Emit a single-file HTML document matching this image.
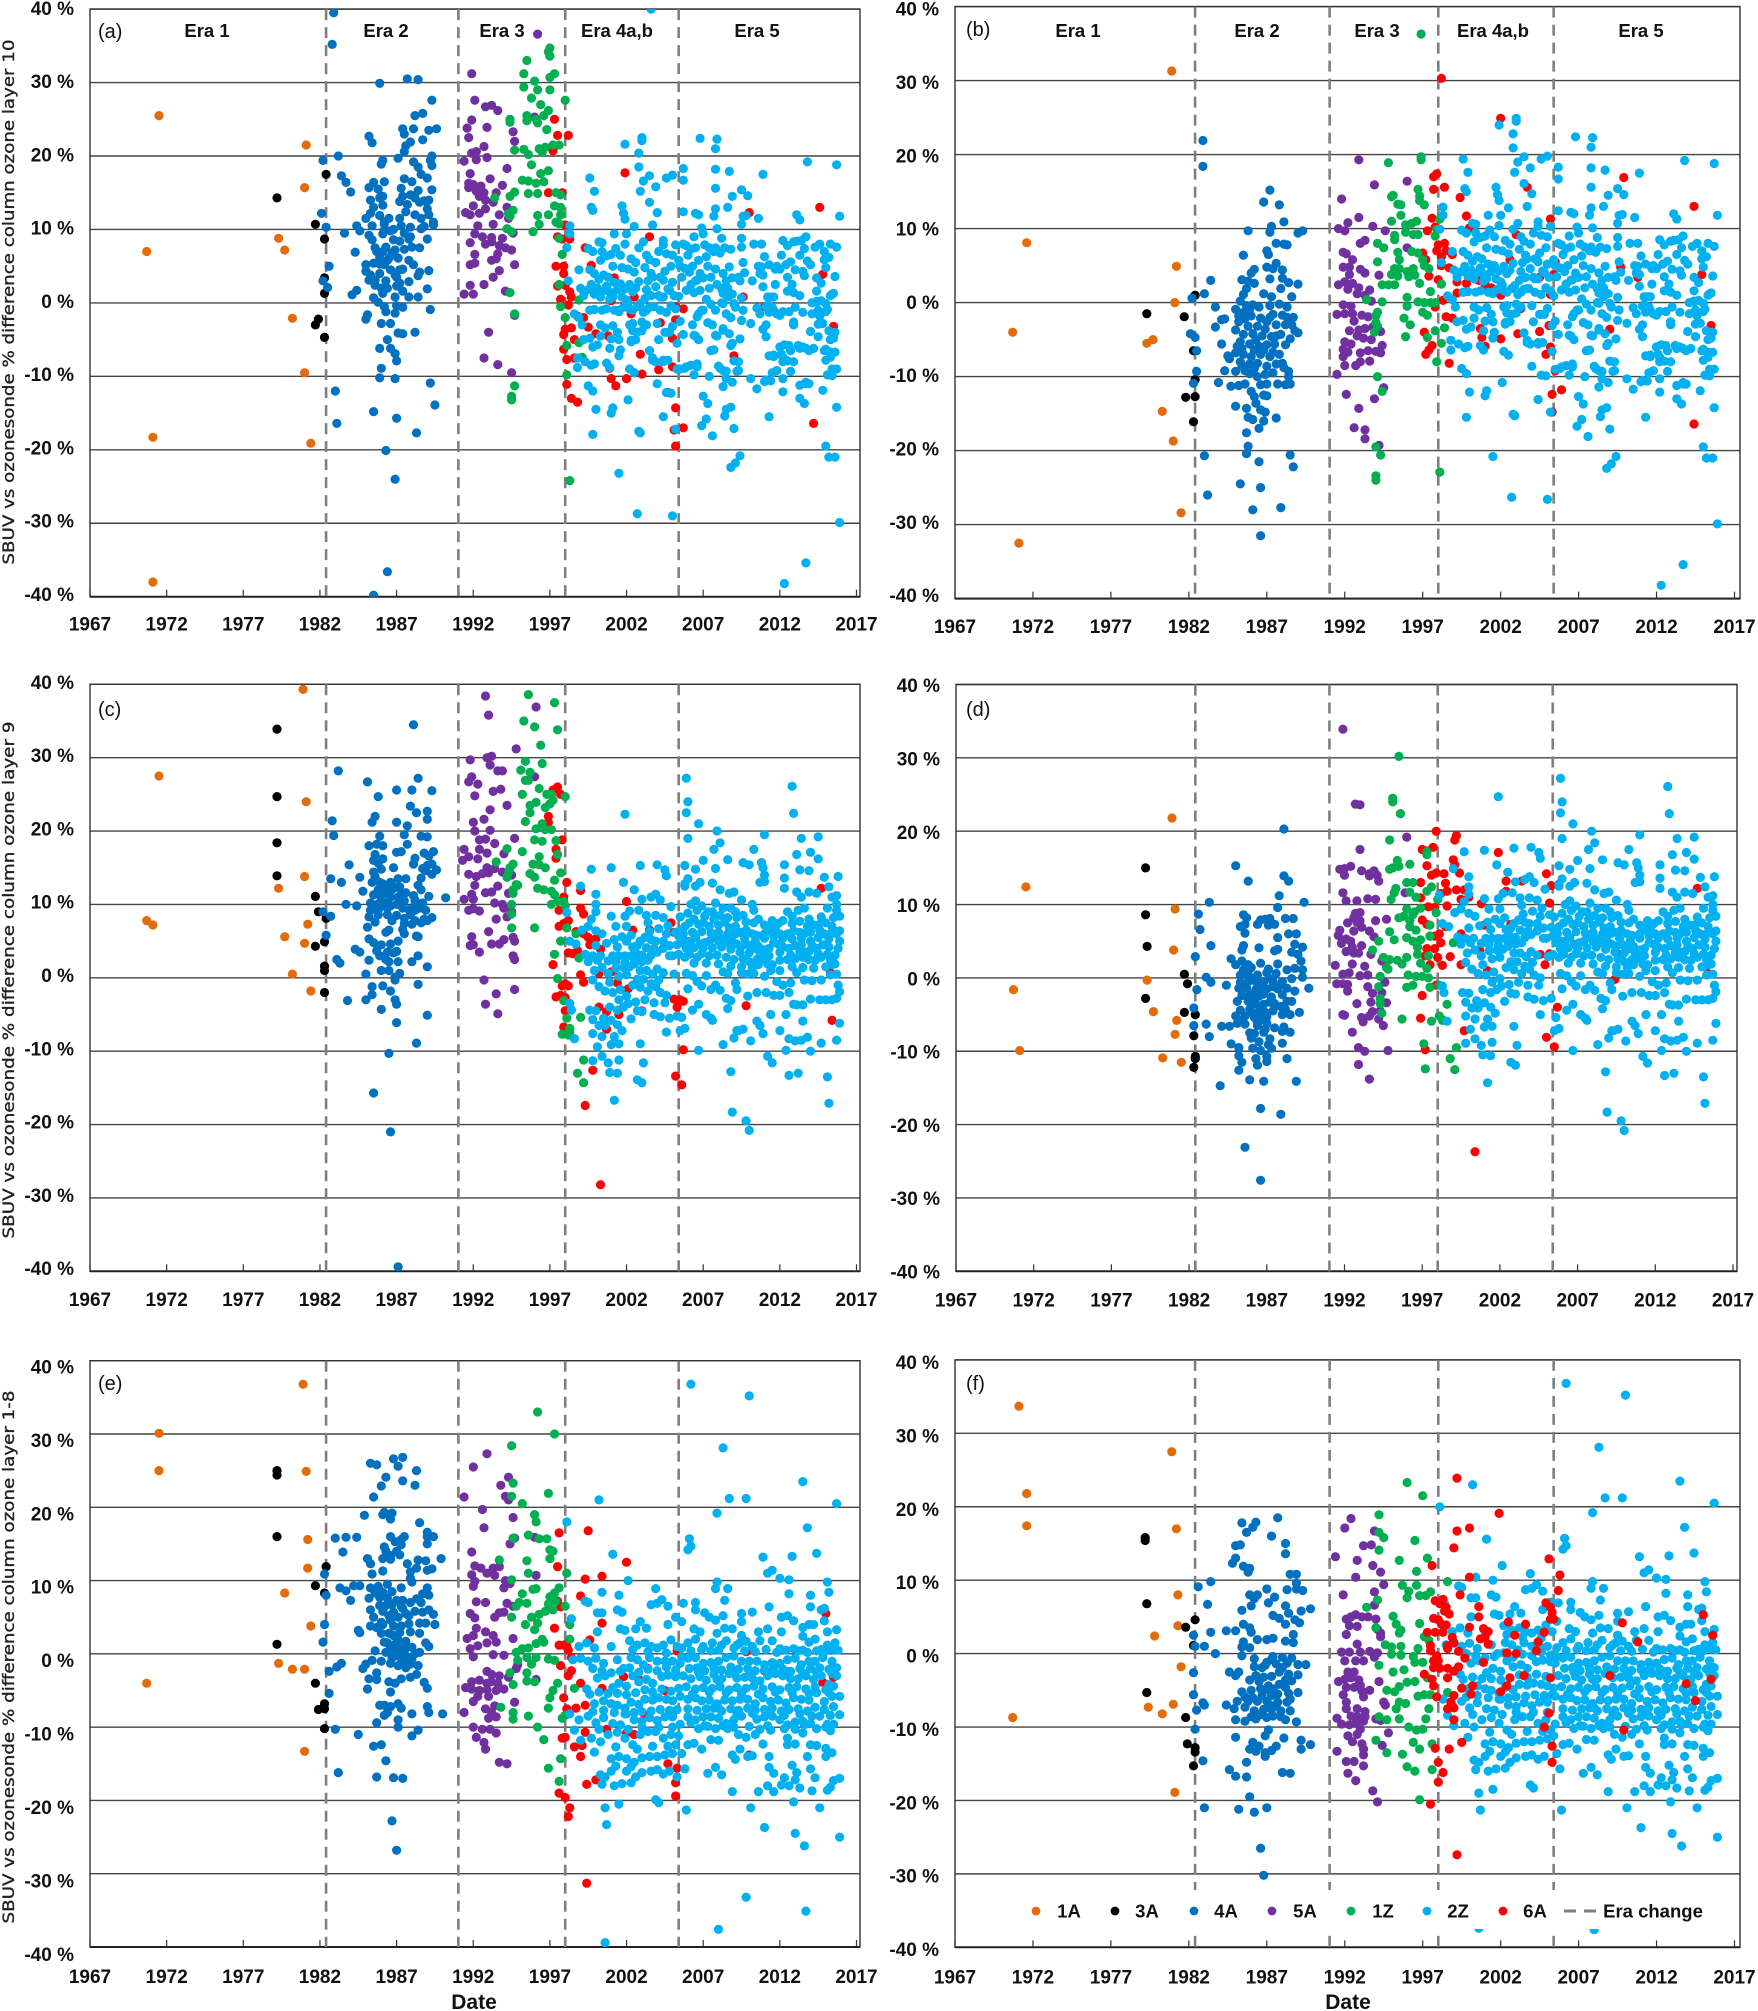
<!DOCTYPE html>
<html lang="en">
<head>
<meta charset="utf-8">
<title>SBUV vs ozonesonde differences</title>
<style>
html,body{margin:0;padding:0;background:#fff;width:1758px;height:2011px;overflow:hidden}
svg{display:block}
text{font-family:"Liberation Sans",sans-serif;fill:#111}
.tick{font-size:19px;font-weight:bold}
.era{font-size:18.5px;font-weight:bold}
.plabel{font-size:20px}
.ytitle{font-family:"DejaVu Sans",sans-serif;font-size:16px;fill:#222;stroke:#222;stroke-width:.35px}
.date{font-size:21px;font-weight:bold}
.leg{font-size:18.5px;font-weight:bold}
</style>
</head>
<body>
<svg id="chart" xmlns="http://www.w3.org/2000/svg" width="1758" height="2011" viewBox="0 0 1758 2011"></svg>
<script>
const xTickLabels=[1967,1972,1977,1982,1987,1992,1997,2002,2007,2012,2017];
const yTickLabels=[40,30,20,10,0,-10,-20,-30,-40];
const eraChangeYears=[1982.4,1991.03,1998,2005.4];
const eraNames=["Era 1","Era 2","Era 3","Era 4a,b","Era 5"];
const seriesNames=["1A","3A","4A","5A","1Z","2Z","6A"];

const layer10_2Z=[[1998.3,10.5],[1998.3,9.4],[1998.1,7.5],[1998.2,3],[1998.6,-1.5],[1998.9,4.5],[1999,2],[1999.2,1],[1998.9,-2],[1999.1,-3],[1998.8,-7.5],[1998.8,-8.8],[1999.3,-8],[1999.2,-5],[1999.5,7.4],[1999.8,7],[1999.6,4.5],[1999.9,4],[1999.5,1.8],[1999.7,2.5],[1999.9,1.2],[1999.6,-1],[1999.9,-.9],[1999.6,-4.8],[1999.8,-6],[1999.7,-8.5],[1999.9,-8.3],[1999.5,-11.3],[1999.8,-12],[2000,-14.5],[1999.8,-17.9],[1999.6,17],[1999.9,15.2],[1999.7,13],[1999.8,12.6],[2000.2,8.3],[2000.4,8.2],[2000.7,6.4],[2000.3,5.8],[2000.5,3.8],[2000.8,3.5],[2000.1,2],[2000.4,1.5],[2000.7,2.3],[2000.9,1.5],[2000.4,-1],[2000.7,-.8],[2000.3,-3],[2000.6,-3.4],[2000.3,-4.5],[2000.7,-8.2],[2000.9,-8.8],[2001.2,9.4],[2001.3,7.4],[2001.6,6.5],[2001.1,5],[2001.7,4.8],[2001.2,2.8],[2001.5,2.6],[2001.1,1],[2001.4,1.8],[2001.7,.8],[2001.2,-1],[2001.5,-1.2],[2001.8,-.6],[2001.1,-3.1],[2001.4,-4],[2001.5,-5],[2001.6,-6.4],[2001.5,-7.2],[2001.1,-14.3],[2001,-15],[2001.5,-23.2],[2001.9,21.6],[2001.7,13.2],[2001.8,12.2],[2001.9,11.4],[2002,9.4],[2001.9,8],[2002.3,6],[2002.6,5.5],[2002.1,4.6],[2002.5,4.2],[2002.2,2.5],[2002.6,2],[2002.1,0],[2002.4,-1],[2002.7,-.5],[2002.2,-3],[2002.4,-3.8],[2002.3,-5.3],[2002.6,-5],[2002.2,-9],[2002.5,-9.5],[2002.8,-17.5],[2002.9,-17.7],[2002.1,-13.2],[2002.7,-28.7],[2002.5,10.4],[2003,22.5],[2003,22.1],[2002.8,20.4],[2002.8,18.5],[2003.5,17.3],[2003.1,16.6],[2003.9,15.8],[2002.9,15.2],[2004.6,17],[2005,17.4],[2003.5,13.7],[2004,12.3],[2003.7,10.6],[2003.6,40],[2003.1,8.3],[2003.3,6.5],[2003.5,5.9],[2003.2,4.8],[2003.6,4],[2003.4,3],[2003.7,3.5],[2003.2,.6],[2003.6,1],[2003.1,-1.3],[2003.5,-.6],[2003.8,-.5],[2003,-2.6],[2003.3,-3],[2003.5,-6.5],[2003.7,-7.5],[2003.9,-8],[2003,-3.8],[2004.4,8.5],[2004.4,7.9],[2004.1,7],[2004.6,6.7],[2004.9,5],[2004.2,3.5],[2004.5,4.3],[2004.1,1],[2004.4,.8],[2004.7,1.9],[2004.2,-1],[2004.6,-1.3],[2004,-2.8],[2004.5,-4],[2004.8,-4],[2004.1,-5],[2004.4,-8],[2004.7,-7.8],[2004,-11],[2004.6,-12.2],[2004.4,-15.5],[2004.9,-12.3],[2005.2,7.9],[2005.4,5.8],[2005.7,8],[2005.9,7.8],[2005.5,5],[2005.8,4.7],[2005.1,1],[2005.4,.9],[2005.2,-.8],[2005.5,-2.5],[2005.7,-4.3],[2005.3,-5.5],[2005.5,-9],[2005.8,-8.9],[2005,-29],[2005.2,-17.2],[2005.7,18.3],[2005.7,16.7],[2005.7,12.4],[2006,6.5],[2006.2,7.3],[2006.5,7.5],[2006.3,5],[2006.7,5.8],[2006.2,2.5],[2006.5,3],[2006.8,1.7],[2006.4,1.4],[2006.7,-1.5],[2006.9,-1],[2006.3,-3],[2006.5,-4.5],[2006.7,-5],[2006.2,-8.5],[2006.6,-8.3],[2006.4,-9.8],[2006.5,12.2],[2006.7,12],[2006.8,22.4],[2006.9,-16.7],[2006.9,10.2],[2007,9.4],[2007.1,7.9],[2007.4,7.5],[2007.7,7],[2007.3,5],[2007.5,3.5],[2007,3.4],[2007.8,4.6],[2007.2,.5],[2007.5,-.2],[2007.8,-1],[2007.3,-2.7],[2007.6,-3],[2007.9,-4.5],[2007.5,-6.5],[2007.7,-6.4],[2007.4,-10],[2007,-12.7],[2007.3,-13.7],[2007.2,-15.8],[2007.6,-18.1],[2007.8,12.8],[2007.7,11.8],[2007.8,15.6],[2007.9,10.1],[2007.8,7.5],[2007.9,22.3],[2007.8,21],[2007.8,18.2],[2008.2,8.8],[2008.1,6.8],[2008.8,7.3],[2008.7,4.9],[2008.3,4],[2008.6,2],[2008.2,1.9],[2008.4,2.1],[2008.2,0],[2008.6,.8],[2008.9,1.2],[2008.5,-1.5],[2008.8,-2],[2008.3,-3.7],[2008.7,-4.2],[2008.9,-5.5],[2008.8,-5.8],[2008.1,-8.9],[2008.5,-9.3],[2008.3,-11.4],[2008.5,-10.3],[2008.5,-14.5],[2008.4,-15.4],[2008.8,-14.2],[2008.6,13],[2008.7,17.9],[2008.9,14.5],[2009,-17.1],[2008.9,-10.8],[2009,-7.9],[2009.2,-9.3],[2009.3,3.5],[2009.4,3],[2009.5,8.8],[2009.5,7.6],[2009.1,-.6],[2009.5,.7],[2009.6,-1],[2009.5,-2.4],[2009.5,15.4],[2009.9,14.6],[2009.8,11.9],[2009.6,11.8],[2009.5,10.7],[2008.8,-22.4],[2009.1,-21.8],[2009.4,-20.8],[2010.1,-10.3],[2010.5,-11.7],[2010.3,8],[2010.8,8],[2010.6,5],[2010.8,4.9],[2010.7,4],[2010.9,2.2],[2010.5,-.7],[2010.7,-1.5],[2010.9,-3.6],[2011.1,-4.6],[2010.9,17.5],[2010.6,11.5],[2011,-10.7],[2011.4,-10.6],[2011.3,-7.2],[2011.6,-7.3],[2011.2,.8],[2011.4,.8],[2011.2,-.3],[2011.5,-.6],[2011.7,4.6],[2011.8,5],[2011.7,2.5],[2011.5,-9.5],[2011.3,-15.5],[2011.8,-1.5],[2011.3,-1.3],[2012.2,8.5],[2012.5,7.8],[2012.9,8.3],[2012.7,5.6],[2012.5,3.5],[2012.5,1.6],[2012.8,2.5],[2012.9,1.4],[2012,-6],[2012.3,-5.7],[2012.6,-5.8],[2012.1,-7],[2012.2,-8],[2012.5,-7.9],[2012.7,-9.3],[2012.2,-10.3],[2012.2,-12.1],[2012.9,-2.6],[2012.9,-3],[2012.3,-38.2],[2013.1,12],[2013.3,11.3],[2013.1,8.4],[2013.4,8.5],[2013.7,9],[2013.3,6.5],[2013.5,4.3],[2013.6,3.7],[2013.8,5.7],[2013.3,1],[2013.2,-5.8],[2013.5,-6],[2013.7,-6.2],[2013.9,-6.5],[2013.3,-11.2],[2013.7,-10.8],[2013.9,-11],[2013.3,-13],[2013.6,-13.7],[2013.8,19.2],[2013.7,-35.4],[2014.4,1.6],[2014.1,0],[2014.4,.2],[2014.7,.3],[2014.1,-1.5],[2014.5,-1],[2014,-3.9],[2014.5,-2.9],[2014.8,-2.8],[2014.5,-4.6],[2014.3,7.6],[2014.6,8],[2014.4,3.4],[2014.7,2.7],[2015,4.8],[2014.9,-6.5],[2014.8,-11.9],[2015,-7.8],[2015.1,-9.8],[2015.3,-6.7],[2015.3,-5],[2015.5,-4.8],[2015.6,-4],[2015.3,1],[2015.4,1.2],[2015.6,3.6],[2015.7,7.6],[2015.7,18.8],[2015.9,11.8],[2015.4,-9],[2015.7,-14.2],[2015,-19.5],[2015.2,-21],[2015.6,-21],[2015.9,-29.9],[2015.1,-.9],[2015.2,-3.8],
[1999.8,1.7],[2000.7,2.2],[2001.6,2.6],[2002.4,1.5],[2000.3,.8],[2001.1,.8],[2002,.4],[2002.9,-.1],[2003.7,-.5],[2004.2,.8],[2004.8,1.7],[1999.6,-1],[2001.5,-1],[2002.2,-.8],[2003.3,-1],[2002.4,-2.8],[2002.3,-5.1],[2002.7,-4],[2004.6,-4],[2006.4,-4.4],[2007.8,-4.4],[2008.3,-3.5],[2006.6,-1.9],[2007,-1],[2008.3,1.3],[2008.3,-.1],[2009,-.1],[2006.6,3.1],[2005.9,1.7],[2011.6,.8],[2011.6,-1],[2012.2,-1.2],[2011.1,-.5],[2015,-.1],[2014.4,.1],[2015,-1.2],[2015.5,1.3],[2012.7,-6.5],[2012,-6],[2013.3,-6.2],[2014.2,-6.2],[2011.6,-7.1],[2012.2,-7.4],[2012.9,-8],[2011.8,-9.2],[2011.1,-10.5],[2013.7,-11],[2015.4,-9.9],[2015.7,-9],[2015.3,-7.4],[2015.6,-6.7],[2015,-6.3],[2006.6,-8.7],[2005.3,-9],[2005.9,-8.7],[2004.4,-7.8],[2003.7,-7.8],[2008.3,-9.2],[2008,-8.6],[2009.3,-9.2],[2009.3,-8],
[2000.2,3.2],[2000.9,.5],[2001.9,1.9],[2002.8,2.9],[2003.3,1.8],[2003.9,2.2],[2004.4,3.1],[2005,2.8],[2005.6,3.5],[2006.1,4.2],[2006.8,4],[2007.4,2],[2007.9,2.5],[2008.5,3],[2008.9,3.4],[2009.7,4.1],[2010.2,3],[2010.9,3.8],[2011.3,5.2],[2012,4.6],[2012.4,5.2],[2013,4.5],[2014,5.2],[2014.9,5.9],[2015.2,6.2],[2000.4,7],[2001,6.6],[2002.8,7.5],[2003.9,5.5],[2005,6.5],[2006.4,9],[2007.2,6.3],[2008.4,7.5],[2009.6,5.5],[2011,6.3],[2012.1,6.5],[2013.6,7.4],[2014.9,7],[2015.3,8],[2001,-4.9],[2000.1,-5.7],[2000.9,-6.2],[2005,-3.2],[2004.9,-.4],[2009.4,-4.9],[2010.1,-2.8],[2011.1,-3],[2012,-1.7],[2012.6,-1.2],[2013,-.6],[2013.5,-1.3],[2014.6,-1.8]];

const layer9_2Z=[[2005.9,27.2],[2006,24],[2005.9,22.5],[2012.8,26.1],[2012.9,22.4],[2001.9,22.3],[2006,19],[2006.7,21],[2007.9,20],[2008.1,18.4],[2011,19.5],[2013.4,19],[2014.5,19.2],[2007.7,17.5],[2010.3,17.5],[2013.1,16.8],[2014,17.1],[2014.5,16.2],[2008.6,16.1],[2007,16],[2009.6,15.7],[2010,15.4],[2010.8,15.7],[2010.9,15],[2012.3,15.4],[1999.7,14.8],[2001,15],[2002.9,15.3],[2004,15.4],[2004.5,14.7],[2004.6,13.9],[2005.8,15.3],[2006.5,14.8],[2007.8,14.9],[2013.3,14.7],[2013.9,14.6],[2011,14],[2014.9,13.7],[2015.8,13.8],[2012.3,13.6],[2001.8,13],[1999,12.5],[2002.5,12],[2000,11.4],[2003,10.7],[2003.6,11],[2003.9,11.4],[2004.2,10.6],[2004.9,9.7],[2002.2,9.1],[2002.8,9.2],[2003.3,8.5],[2003.9,8.5],[2004.4,8.2],[1998.1,8.9],[1999.7,8],[2000,10],[2000,9],[2001,8.4],[2001.9,8.4],[2001.3,7],[2002,7],[2003.4,7.5],[2004.7,7.1],[2005.8,12.8],[2006,13.5],[2005.8,12.5],[2006.5,12.5],[2006.8,13],[2007.6,12.9],[2008.1,12],[2008.7,11.5],[2009,11.7],[2009.5,10.6],[2010.2,10],[2011,13.1],[2010.7,13],[2012.3,12.2],[2013.1,11.7],[2013.4,11],[2013.9,11.7],[2014.4,11.5],[2015.2,12.4],[2015.7,11.2],[2015.4,11],[2015.7,10],[2015.7,9.2],[2015.9,8.4],[2015.1,9.5],[2014.7,8.3],[2006.2,10],[2006.5,10.5],[2006.9,9.8],[2007.3,9],[2007.8,10.2],[2008.3,9.5],[2008.8,9.5],[2009.1,9],[2009.6,8.5],[2010.3,9.2],[2010.6,8],[2011.5,7.8],[2011.9,7.4],[2012.5,9],[2012.8,8.4],[2013.2,9.2],[2013.6,9.5],[2013.9,8],[2014.2,7.2],[2015.4,7],[2015.9,6.4],[2005.2,6.2],[2005.5,6.5],[2005.8,7],[2006.1,7.5],[2006.4,8],[2006.7,7.3],[2007,7.5],[2007.4,7],[2007.7,8],[2008,7.2],[2008.4,7.6],[2008.7,6.8],[2009.1,7],[2009.4,6.2],[2009.8,6.5],[2010.2,6],[2010.5,5.8],[2011,5.4],[2011.3,6.5],[2011.7,6.8],[2012,6],[2012.5,6],[2012.9,6.4],[2013.3,6.2],[2013.6,6],[2014,5],[2014.5,5.5],[2014.9,6],[2015.3,6],[2005.3,4.5],[2005.6,4.8],[2005.9,5],[2006.2,5],[2006.5,5.5],[2006.8,4.6],[2007.1,4.8],[2007.4,5],[2007.7,5.5],[2008,5],[2008.3,5.3],[2008.6,4.8],[2008.9,5],[2009.2,4.6],[2009.5,4.3],[2009.9,4.5],[2010.3,4],[2010.6,4.3],[2011,3.8],[2011.3,4],[2011.6,4.8],[2011.9,4.6],[2012.2,4.2],[2012.6,4],[2013,4.4],[2013.4,4.5],[2013.7,3.5],[2014.1,4.4],[2014.4,4],[2014.8,4.5],[2015.2,4.2],[2015.9,5],[2015.8,4],[2004.4,5],[2004.8,4.4],[2005,3],[2005.4,3.2],[2005.8,2.8],[2006.1,3.2],[2006.6,2.8],[2006.9,3.3],[2007.4,3],[2007.9,3.1],[2008.5,2.8],[2009,2.5],[2009.6,2.6],[2010,2.2],[2010.5,2.5],[2011,2.6],[2011.5,1.8],[2012,2.4],[2012.5,2.5],[2013,2.6],[2013.5,2.8],[2013.9,2.5],[2014.3,2.4],[2014.7,2.8],[2015.3,2.5],[2015.4,1.8],[2003.2,5.5],[2003.6,5.2],[2003.9,5],[2002,5],[2002.4,4.2],[2002.7,4.4],[2001.4,4.2],[2001.1,3],[2001.5,3],[2001.9,3],[2002.3,3],[2002.6,3.4],[2003,3.1],[2003.4,2.4],[2003.8,4],[2000,4.4],[2000.4,6],[2000,6.4],[1999.5,7],[1999.1,6.5],[1998.3,5],[1998.7,4.6],[1999.3,3.2],[1999.8,3],[2000.3,3],[2000.1,2.4],[1999.5,2.2],[1999.9,1],[2000.8,.6],[2001.3,1.3],[2001.8,1.4],[2002.2,1.5],[2002.5,1.9],[2002.9,1],[2003.3,1],[2003.7,.5],[2004,1.2],[2004.4,.7],[2005.1,.5],[2005.9,.6],[2006.3,.3],[2006.6,-.5],[2007.2,.3],[2007.8,-1],[2008.3,.8],[2008.6,.6],[2009.1,-.7],[2009.5,1.5],[2009.9,.5],[2010.2,1.4],[2010.6,1.8],[2011,.2],[2011.4,1],[2011.8,-.5],[2012.2,-1],[2012.7,-.7],[2013.1,.7],[2013.6,-.3],[2014.1,-.4],[2014.7,-.3],[2015.3,.4],[2015.7,.5],[2015.8,-1],[1999.8,-.3],[2000.2,-1.2],[2000.6,-1.8],[2001.1,-2],[2001.6,-1.6],[2002,-2.5],[2002.4,-1],[2002.9,-1.3],[2003.4,-1.8],[2003.8,-3.4],[2004.2,-2],[2004.6,-2.4],[2006,-1.5],[2006.9,-1.1],[2007.5,-1.6],[2008.1,-1.7],[2008.5,-2.8],[2008.8,-3.1],[2009.2,-1.6],[2009.9,-2.5],[2010.5,-2],[2011.1,-2],[2011.6,-2.4],[2012,-2.4],[2012.6,-2],[2013.1,-3.7],[2013.5,-3.7],[2014,-2.9],[2014.6,-3],[2015,-3],[2015.4,-3],[2015.7,-2.8],[2015.9,-1.9],[1998.3,-3.5],[1998.4,-4.4],[1999.6,-4.4],[2000,-4.5],[1999.8,-5.7],[2000.5,-5.5],[2000.2,-6.5],[2000.6,-6.5],[2000.9,-4],[2001.4,-4.4],[2001.8,-4],[2002.3,-5.6],[2002.7,-4.5],[2003,-4.6],[2003.8,-5],[2004.2,-5.3],[2004.8,-5.5],[2005.3,-5.2],[2005.6,-5.4],[2006.3,-4.4],[2006.7,-3.6],[2007.2,-5],[2007.5,-5.5],[2007.6,-5.8],[2008.6,-4.2],[2009.2,-7.2],[2009.6,-7],[2010.5,-5.9],[2010.7,-6.5],[2011.4,-5],[2012.4,-5],[2012.9,-3.6],[2013.5,-5.9],[1998.6,-8.3],[1999.8,-7.6],[2000.4,-8],[2000.1,-9.4],[2001.2,-8],[2001,-9.1],[2001.5,-9],[2002.9,-9],[2004.6,-7.4],[2005.5,-7.2],[2005.8,-6.9],[2009,-8.2],[2009.3,-7.2],[2010.1,-8.6],[2010.9,-7.6],[2012,-7.2],[2012.6,-8.3],[2013,-8.6],[2013.4,-8.5],[2013.8,-8.1],[2014.7,-8.9],[2015.7,-8.5],[2015.9,-6.2],[2000.9,-12.9],[2001.4,-13],[2002.7,-13.9],[2003,-14.3],[2003.1,-11.6],[2001.2,-16.7],[2001.5,-11.2],[1999.8,-11.3],[2000.4,-10.7],[2000.8,-11.6],[2006.7,-9.9],[2008.8,-12.8],[2008.9,-18.3],[2009.8,-19.5],[2010,-20.8],[2012.6,-13.3],[2013.2,-13],[2015.1,-13.5],[2015.2,-17.1],[2011.2,-10.7],[2011.5,-11.6],[2012.4,-9.9],[2014,-10],[2008.3,-9.1],
[2005.5,8.3],[2006,8.8],[2006.6,9.2],[2007.1,8.4],[2007.6,9],[2008.1,8.5],[2008.6,8.2],[2009.2,8.2],[2009.8,7.6],[2010.3,7.5],[2011,7.2],[2011.5,7],[2012.2,7.8],[2012.8,7.4],[2013.3,7.7],[2013.8,7],[2014.5,7.2],[2015,7.5],[2015.5,8.2],[2005.7,6],[2006.3,6.2],[2006.9,6.3],[2007.5,6.1],[2008,6.2],[2008.6,6],[2009.1,6],[2009.7,5.4],[2010.4,5],[2011,6],[2011.6,5.7],[2012.2,5.4],[2012.8,5.3],[2013.4,5.4],[2014,6.2],[2014.6,6.5],[2015.2,5.3],[2015.7,6],[2005.4,5.7],[2005.9,4],[2006.4,4.1],[2007,4],[2007.6,4.1],[2008.2,4.2],[2008.8,3.9],[2009.4,3.5],[2010,3.4],[2010.7,3.4],[2011.3,3],[2012,3.5],[2012.7,3.1],[2013.3,3.5],[2013.9,3.6],[2014.5,3.3],[2015.1,3.2],[2015.6,3.1],[2006.4,2],[2007.2,2],[2008,1.9],[2008.8,1.6],[2009.5,.7],[2010.3,.6],[2011.2,1.9],[2012,1],[2012.8,1.5],[2013.5,1.4],[2014.2,1.3],[2015,1.5],[2015.6,1.9],[2000.8,2.3],[2001.3,2.2],[2001.9,2.1],[2002.5,2.6],[2003,2.2],[2003.6,3.1],[2004,3.5],[2004.4,4],[2003.3,4.1],[2002.9,5],[2002.3,5.8],[2001.7,5.6],[2001.2,5.2],[2000.7,4.7],[2000.4,1.4],[2000.9,-.6],[2001.5,.2],[2002,.4],[2002.7,-.2],[2003.1,-.2],[2003.6,-.8],[2004.1,-.3],[2004.8,3],[2003.5,6.3],[2004.1,6.7],[2004.6,6],[2001.5,-3],[2002.1,-3.5],[2002.6,-3.3],[2003.2,-3],[2003.9,-1.2],[2004.5,-3.4],[2001,-5.8],[2001.7,-7.2],[2001.4,-6.4]];

const layer18_2Z=[[2006.2,36.8],[2010,35.2],[2008.3,28.1],[2013.5,23.5],[2000.2,21],[2008.7,21.2],[2009.8,21.2],[2015.7,20.5],[2007.9,19.2],[1998.1,18],[2013.8,17.2],[2006.1,15.7],[2006.2,14.7],[2006,14.2],[2001.1,13.6],[2010.9,13.2],[2012.8,13.3],[2014.4,13.7],[2011.2,11],[2011.5,11.4],[2012,10.3],[2002.1,10],[2012.6,10.1],[2015.1,9.8],[2007.9,9.8],[2007.8,8.9],[2008.6,8.9],[2003.9,8.9],[2000.4,8.4],[2001.5,8],[2015.2,8.4],[2012.6,8.2],[2014,8],[1999.3,7.2],[1999.5,7],[2005.7,6.9],[2006.5,7],[2004.3,7.4],[2003.6,6.7],[2004,6.9],[2004.7,6.5],[2008.4,7.3],[2011.3,6.4],[2014,6.4],[2014.7,6],[2014.9,6.2],[2000.1,5.6],[2000.4,5.6],[2001.4,6],[2001.7,5.7],[2006.5,6],[2007.1,5.6],[2007.4,5],[2007.8,4.6],[2008.3,5.2],[2009.5,5.5],[2009.5,4.4],[2010.2,5.7],[2012.1,5],[2012.5,5.2],[2012.9,4.5],[2013.5,3.6],[2013.9,4],[2014.2,4],[2014.9,4.5],[2015.1,3],[2015.7,3.3],[1998.4,4.8],[2000.1,3],[2001.6,3.4],[2001.9,3.2],[2002.6,3.4],[2002.9,4.4],[2003.3,3.5],[2004.7,4],[2005.2,5],[2005.6,4.4],[2006.4,3.4],[2006.8,3],[2007.9,2.8],[2008.4,3.5],[2008.9,3.4],[2009.5,2.5],[2010.6,3],[2011.2,3.4],[2012.1,3],[2013.5,2.4],[2013.9,1.6],[2014.3,2],[1998.9,1],[1999.4,1.5],[2001,1],[2002.2,1.8],[2002.7,1.2],[2003.2,1.5],[2003.6,1],[2004,.8],[2004.4,1.2],[2004.9,1.9],[2005.3,1],[2005.6,.8],[2006,1.5],[2006.5,2],[2007,1],[2007.5,.4],[2008,.5],[2008.5,1.8],[2009,.8],[2009.4,1.5],[2009.8,1.7],[2010.2,1],[2010.7,1.8],[2011.5,1.8],[2012,.7],[2012.9,.7],[2013.5,.5],[2014.7,.6],[2015.1,1.2],[2015.5,.6],[2015.8,.5],[1998.5,-.8],[1999,-.6],[1999.5,-1],[2000,-.6],[2000.5,-1.3],[2001.4,-.8],[2001.8,-2],[2002.3,-.5],[2002.7,-.8],[2003.1,-1.5],[2003.5,-.5],[2004,-1],[2004.5,-1],[2005,-1],[2005.5,-1.3],[2006,-.6],[2006.5,-.5],[2007,-1.3],[2007.5,-1.2],[2008,-1],[2008.5,-.5],[2009,-.3],[2009.5,-1],[2010,-1],[2010.5,-1],[2011,-1.5],[2011.5,-1.2],[2012,-1.3],[2012.5,-.8],[2013,-.6],[2013.4,-1.5],[2013.9,-1],[2014.3,-1],[2014.8,-.5],[2015.4,-1],[2000.1,-3.3],[2000.6,-3],[2001.1,-4.6],[2001.5,-4],[2002,-4.4],[2002.4,-3],[2002.8,-3.8],[2003.3,-3.5],[2003.7,-4],[2004.3,-3.1],[2004.7,-2.9],[2005.2,-3.1],[2005.7,-3],[2006.2,-3.4],[2006.7,-2.5],[2007.2,-3.6],[2007.7,-2.8],[2008.2,-3.4],[2008.7,-2.7],[2009.2,-3.3],[2009.7,-3.2],[2010.2,-3.3],[2010.7,-3.7],[2011.2,-3],[2011.7,-2.7],[2012.2,-3],[2012.7,-3.4],[2013.2,-3.4],[2013.7,-3],[2014.2,-3.5],[2014.7,-3],[2015.2,-4.2],[2015.7,-3],[1999.4,-4.8],[1999.9,-6.8],[2000.5,-6.4],[2001,-6.8],[2001.4,-7],[2001.9,-7.4],[2002.3,-6.6],[2002.8,-6.9],[2003.2,-6.2],[2003.7,-6.3],[2004.1,-6],[2004.6,-6.2],[2005,-6.4],[2005.5,-5.8],[2006,-6.2],[2006.5,-6],[2006.9,-6.4],[2007.4,-6.3],[2007.9,-6.8],[2008.4,-6.3],[2008.9,-6.4],[2009.4,-6.2],[2009.9,-6.2],[2010.4,-6.8],[2010.9,-6],[2011.4,-6.5],[2011.9,-6.3],[2012.4,-6.7],[2012.9,-6],[2013.4,-6.2],[2013.9,-6.3],[2014.4,-5.3],[2014.9,-6.5],[2015.4,-5.8],[2015.9,-5.8],[1998.3,-8.2],[1998.9,-9],[1999.5,-8.5],[2000,-9.4],[2000.5,-8.7],[2001.1,-9.5],[2001.6,-9.7],[2002,-8.2],[2002.5,-9],[2003,-9.2],[2003.5,-8.7],[2004,-9.1],[2004.5,-8.6],[2005,-8.6],[2005.5,-9.6],[2006,-8.6],[2006.5,-9],[2007,-8.6],[2007.5,-8.6],[2008,-8.8],[2008.5,-9.5],[2009,-9],[2009.5,-8.5],[2010.5,-8.9],[2011,-8.6],[2011.5,-8.5],[2012,-9],[2012.5,-9.7],[2013,-9.3],[2013.5,-9.2],[2014,-9.5],[2014.6,-8.5],[2015,-10],[2015.5,-9.6],[2015.9,-8.3],[1998.6,-10.4],[1999,-11.8],[1999.7,-11.5],[2000.3,-12],[2000.8,-11],[2001.4,-10.7],[2001.9,-11.5],[2002.4,-12.4],[2002.9,-11],[2003.4,-10.6],[2003.9,-10.6],[2004.4,-11.5],[2004.9,-11],[2005.4,-11.2],[2006,-12.4],[2006.4,-12.2],[2006.9,-13],[2007.5,-11.7],[2008,-11.8],[2008.6,-10.2],[2009.3,-11],[2009.8,-11.4],[2010.4,-11],[2010.9,-12.3],[2011.4,-10.4],[2012.5,-11.5],[2013,-12.3],[2013.5,-10.8],[2014,-12.4],[2014.4,-12.5],[2015,-12.9],[2015.3,-10.5],[1999.9,-13.4],[2001,-14.3],[2001.5,-14],[2002,-14.3],[2002.5,-14.8],[2003,-14.2],[2003.5,-14],[2004,-14],[2004.5,-13.8],[2005,-13.6],[2005.6,-13.6],[2008.9,-13.8],[2009.1,-14.4],[2009.4,-13],[2009.9,-14],[2010.2,-13.9],[2011.3,-14],[2012.5,-12.4],[2013.8,-14],[2015,-14],[2015.4,-13.5],[2000.3,-16.5],[2000.6,-16.8],[2001,-16],[2001.3,-15.3],[2002,-16],[2002.3,-15.4],[2002.6,-16.8],[2003,-16.2],[2003.6,-16],[2004,-15.8],[2004.4,-16.4],[2004.8,-16],[2005.3,-16.8],[2005.8,-15.7],[2007.3,-16.3],[2007.8,-15.5],[2008.2,-16.5],[2011.3,-15.5],[2011.6,-16.3],[2012.3,-16.9],[2012.8,-15.2],[2013.1,-16.2],[2014.3,-16.9],[2014,-15.7],[2015.5,-17.3],[2015.9,-17],[2000.4,-17.8],[2001.2,-18],[2001.7,-17.7],[2002.3,-17.6],[2008.9,-18.8],[2010.6,-18.8],[2011.2,-18],[2011.6,-18.8],[2012.1,-17.9],[2012.6,-18],[2013,-17.2],[2013.3,-18.3],[2014.1,-18.7],[2015.1,-18.6],[2015.3,-18.2],[2000.6,-21],[2001.5,-20.5],[2003.9,-19.9],[2004.1,-20.3],[2005.9,-21.3],[2010.1,-21],[2012.9,-20.2],[2014.6,-21],[2000.7,-23.3],[2011,-23.7],[2013,-24.5],[2013.6,-26.2],[2015.9,-25],[2009.8,-33.2],[2013.7,-35.1],[2008,-37.6],[2000.6,-39.4],
[2006.1,-2],[2006.6,-1.9],[2007.1,-2.3],[2007.7,-1.9],[2008.2,-2.2],[2008.8,-1.8],[2009.3,-2.1],[2009.9,-2],[2010.4,-2.3],[2011,-2.2],[2011.6,-1.9],[2012.2,-2.1],[2012.7,-2.4],[2013.3,-2],[2014,-2],[2014.6,-1.9],[2015.2,-2.1],[2015.7,-1.9],[2005.9,-4.5],[2006.5,-4.8],[2007,-4.6],[2007.6,-4.7],[2008.1,-4.5],[2008.7,-4.9],[2009.2,-4.6],[2009.8,-4.7],[2010.3,-4.4],[2010.9,-4.8],[2011.5,-4.5],[2012,-4.9],[2012.6,-4.6],[2013.1,-4.5],[2013.7,-4.8],[2014.3,-4.5],[2015,-4.9],[2015.5,-4.4],[2006,-7.5],[2006.6,-7.7],[2007.2,-7.5],[2007.7,-7.4],[2008.2,-7.8],[2008.8,-7.5],[2009.3,-7.7],[2009.9,-7.4],[2010.4,-7.7],[2011,-7.6],[2011.5,-7.4],[2012.1,-7.8],[2012.6,-7.6],[2013.2,-7.5],[2013.8,-7.8],[2014.3,-7.3],[2014.9,-7.6],[2015.5,-7.2],[2006.7,-10.2],[2007.3,-9.9],[2007.8,-10.2],[2008.3,-9.8],[2009,-10],[2010,-9.9],[2010.7,-10.3],[2011.2,-9.8],[2012.3,-10.2],[2013,-10.3],[2013.6,-9.7],[2014.4,-10.2],[2015.1,-9.6],[2006.2,.4],[2006.9,.6],[2007.6,1.5],[2008.2,1.2],[2009.2,1.2],[2009.7,.4],[2010.4,.3],[2011.1,.6],[2011.8,.2],[2012.4,.5],[2013.2,.4],[2013.8,.2],[2014.4,.4],[2015,.4],[2015.6,1.5],[2006.3,-5.5],[2007.4,-5.2],[2008.5,-5.3],[2009.5,-5.4],[2010.6,-5.5],[2011.7,-5.2],[2012.8,-5.3],[2013.9,-5.4],[2015.2,-5.3],[2006.8,-3.1],[2007.9,-3.5],[2009,-2.7],[2010,-2.9],[2011.4,-2.4],[2012.4,-2.4],[2013.5,-2.6],[2014.4,-2.5],[2015.4,-2.7],[2006.2,-9.4],[2007.1,-9.8],[2008,-7.4],[2009.2,-8.3],[2010.2,-8.1],[2011.3,-7.7],[2012.3,-8.4],[2013.3,-8.2],[2014.1,-8.5],[2015.3,-8.4],[1999.8,-2],[2000.4,-2.3],[2001,-2.6],[2001.6,-2.4],[2002.2,-1.9],[2002.8,-2.5],[2003.4,-2.1],[2004,-2.3],[2004.6,-1.8],[2005.2,-2.2],[1999.6,-5.5],[2000.2,-5.2],[2000.8,-5.4],[2001.4,-5.4],[2002,-5.6],[2002.6,-5.3],[2003.2,-4.9],[2003.7,-5.2],[2004.3,-4.8],[2004.9,-5.1],[2005.4,-4.7],[1999.8,-7.9],[2000.5,-7.7],[2001.2,-8],[2001.9,-8.2],[2002.5,-8],[2003,-7.9],[2003.6,-7.8],[2004.2,-7.6],[2004.8,-7.7],[2005.3,-7.6],[2000.2,-10.3],[2002.1,-10.3],[2003,-10],[2004.1,-10],[2005,-10],[2003.4,.3],[2004.6,.1],[2005.6,-.4],[2002.4,.6],[1999.9,.8],[2001.3,-12.7],[2002.7,-13],[2003.7,-12.6],[2004.7,-12.6],[2005.2,-12.4]];

const era4Shift2Z={b:2.4,d:2.4,f:2};

const a1A=[[1971.5,25.5],[1970.7,7],[1971.1,-18.3],[1971.1,-38],[1981.1,21.5],[1981,15.7],[1979.3,8.8],[1979.7,7.2],[1980.2,-2.1],[1981,-9.5],[1981.4,-19.1]];
const a3A=[[1979.2,14.3],[1982.4,17.5],[1981.7,10.7],[1982.3,8.7],[1982.3,3.4],[1982.3,1.3],[1981.9,-2.2],[1981.7,-3],[1982.3,-4.7]];
const a4A=[[1982.9,39.5],[1982.8,35.2],[1985.9,29.9],[1987.7,30.5],[1988.4,30.4],[1989.3,27.6],[1988.7,25.8],[1988.2,25.5],[1985.2,22.7],[1985.4,21.8],[1987.4,23.7],[1987.5,23],[1988.1,23.7],[1989.1,23.5],[1989.6,23.7],[1988.7,22.2],[1987.9,21.9],[1987.6,21.4],[1987.5,20.6],[1982.2,19.4],[1983.2,20],[1986.1,19.4],[1986,18.9],[1987.1,19.7],[1989.3,20],[1989.2,19.4],[1988.1,19.2],[1988.4,18.5],[1989.3,18.7],[1983.4,17.3],[1983.7,16.4],[1984,15.1],[1985.5,16.4],[1985.8,15.5],[1986.2,16.5],[1987.5,16.9],[1988,16.5],[1988.6,17.5],[1989,17],[1985.2,15.7],[1986.1,14.5],[1987.4,14.5],[1987.9,14.7],[1989.3,15.4],[1985.3,14],[1985.5,13],[1986.1,13.3],[1987.2,13.8],[1987.7,13.4],[1988.5,13.7],[1989,12.8],[1982.1,12.2],[1985.3,12.2],[1985,11.5],[1985.9,11.9],[1986.5,11.5],[1988.2,12],[1988.6,11.5],[1989.1,12],[1989.4,11],[1982.4,10.3],[1984.4,10.5],[1984.6,9.8],[1986.2,10.7],[1987.3,10.5],[1987.9,10.3],[1988.6,10.1],[1989.4,10.6],[1983.6,9.5],[1985.2,9.2],[1985.4,8.6],[1986.1,9.4],[1986.8,8.6],[1987.2,8.4],[1987.8,8.7],[1989,8.7],[1984.3,6.9],[1985.6,7.5],[1986.3,7.6],[1986.9,7.2],[1987.5,7.3],[1988,7.6],[1988.5,7.5],[1985.9,6.1],[1986.5,6.1],[1987.1,6.1],[1987.8,5.8],[1985,5.2],[1985.5,5.4],[1986.2,5.2],[1986.6,4.5],[1987.2,4.5],[1985,4.3],[1985.3,3.8],[1985.9,4],[1987.4,4.6],[1988.5,4.2],[1989.1,4.4],[1982.6,5],[1985.2,3.1],[1985.6,3.1],[1986.3,3],[1987.2,2.7],[1987.8,2.9],[1988.4,3.7],[1982.2,3],[1982.5,2.1],[1984.4,1.7],[1984.1,1.1],[1986,2],[1986.1,1.3],[1987,2.3],[1987.4,1.6],[1989,1.9],[1985.5,.7],[1986.9,.8],[1987.8,.8],[1988.4,.8],[1985.8,.1],[1986.2,-.5],[1987,-.4],[1987.4,-.6],[1985.1,-1.6],[1985,-2.2],[1986.3,-1.2],[1986.9,-1.4],[1989.2,-.9],[1986,-2.8],[1986.6,-2.8],[1987.1,-4.1],[1987.4,-4.2],[1988.2,-4],[1986.4,-5],[1985.9,-6.2],[1986.6,-6.2],[1986.9,-6.9],[1987,-7.9],[1986,-8.9],[1985.9,-10.2],[1986.9,-10.3],[1989.2,-10.9],[1983,-12],[1983.1,-16.4],[1985.5,-14.8],[1987,-15.7],[1989.5,-13.9],[1988.3,-17.7],[1986.3,-20.1],[1986.9,-24],[1986.4,-36.6],[1985.5,-39.8],[1985.7,7],[1986.6,9.8],[1987.2,11.5],[1988.8,13.9],[1986.2,9.9],[1985.4,10.5],[1986.7,6.8],[1987.9,9],[1988.8,10.4],[1985.6,2.4],[1986.4,2],[1987,3.5],[1986.1,7],[1985.9,5.3],[1987.6,12.4],[1988.2,14.3],[1989.1,14],[1986.9,3.8],[1986.2,11],[1987.3,15.6],[1988.4,15.3],[1985.9,14.3],[1986.4,5.8],[1988.1,5.2],[1987.5,9.5],[1986.8,10]];
const a5A=[[1996.2,36.6],[1991.9,31.2],[1992.1,27.6],[1992.8,26.7],[1993.2,26.9],[1993.6,26.2],[1996,25.3],[1991.9,24.9],[1991.6,23.8],[1992.9,23.9],[1991.7,22.5],[1994.6,23.3],[1994.7,22],[1992.7,21.3],[1992.2,20.6],[1991.9,20.4],[1991.4,19.3],[1992.9,19.8],[1992.2,19.5],[1991.8,17.6],[1994.2,18.3],[1993.1,16.9],[1991.7,16.3],[1992,16.1],[1992.5,15.9],[1993.9,16],[1991.7,15.7],[1992.2,15.2],[1992.7,15],[1993.5,15],[1992.4,14.5],[1992.8,14],[1993.3,13.7],[1992,13.2],[1992.8,12.8],[1994.2,13],[1991.5,12.3],[1991.8,12],[1992.4,12.2],[1993.7,12],[1994.3,11.5],[1993.3,10.7],[1992.3,10.5],[1994.6,9.5],[1992.1,9.4],[1992.6,9],[1993.2,8.9],[1993.9,8.8],[1991.8,8.2],[1992.8,8],[1993.2,8.3],[1993.7,7.8],[1994.1,7.5],[1994.5,7.2],[1992.1,6.6],[1993.6,6.7],[1993.2,5.8],[1993.5,6],[1991.8,5.2],[1992.1,5.4],[1994.7,5.2],[1993.7,4.4],[1993.3,3.5],[1992.7,2.5],[1991.8,2.4],[1994.1,1.6],[1991.4,1.2],[1992,1.2],[1994.7,-1.7],[1993,-4],[1992.7,-7.5],[1993.6,-8.4],[1994.5,-9.5]];
const a1Z=[[1997,34.7],[1996.9,34.2],[1997,33.6],[1995.5,33],[1995.3,31.2],[1997.3,31.2],[1997,30.7],[1996,30.2],[1995.3,29.4],[1996.2,29],[1997,29],[1995.8,27.9],[1998,27.6],[1996.4,27],[1996.9,26.2],[1994.4,25],[1994.4,24.6],[1995.5,25.5],[1995.5,24.8],[1996.1,25],[1996.2,24.5],[1996.8,23.6],[1996.6,25.5],[1994.7,20.8],[1995.3,20.9],[1995.6,20.2],[1996.3,21],[1996.7,21.2],[1997.2,21.5],[1997.6,21.5],[1996.5,20.5],[1995.8,18.8],[1996.9,18],[1996.4,17.6],[1995.2,16.7],[1995.6,16.6],[1996.1,16.3],[1996.6,16.5],[1994.4,14.5],[1994.7,15.1],[1995.6,14.9],[1996.2,14.9],[1997.4,15],[1997.7,14.7],[1997.7,13],[1993.4,14.3],[1997.3,13.2],[1997.7,12],[1994.3,12.2],[1994.6,12.6],[1994.4,11.8],[1996.2,11.9],[1996.9,12],[1997.4,11],[1997.6,10.8],[1994.2,10.1],[1994.5,9.7],[1996.3,10.7],[1995.9,9.7],[1997.6,8.8],[1997.8,6.6],[1997.6,2.5],[1994.4,1.4],[1997.7,-.5],[1998,-2],[1994.7,-1.5],[1998.1,-5.8],[1998.9,-5.4],[1999.1,-7.4],[1998.1,-9.8],[1994.7,-11.3],[1994.5,-12.7],[1994.5,-13.2],[1998.3,-24.2],[1998.9,.4]];
const a6A=[[1997.3,25],[1997.5,22.8],[1998.2,22.8],[1997.2,20.7],[1996.9,15],[1997.8,15],[2001.9,17.7],[1997.5,10.9],[1998,10.6],[1997.5,9],[1997.8,8.7],[1998.3,8.7],[2003.5,9],[1999.3,7.5],[1997.4,5],[1997.9,5],[1999.7,5.1],[1997.9,4],[2001.2,3.4],[1997.5,2.3],[2002.2,2],[1998,2.4],[1998.3,1.5],[1997.7,.5],[1998.4,.8],[2001,.3],[2002.5,.8],[1998.2,-.3],[1998.8,-1.8],[1999.2,-2],[2002.3,-1.5],[2005.2,-.5],[2005.7,-.8],[2005.2,-2.3],[1998,-3.6],[1998.4,-3.4],[1997.9,-4.3],[1999.5,-3.3],[2000,-4.2],[2000.8,-4.5],[2004.2,-2.7],[1998.6,-5],[2005,-4.8],[1997.9,-6.3],[1998.1,-7.7],[1998.6,-7.5],[2002.9,-7],[2004.1,-9.1],[2003,-9.7],[2005,-8.7],[2000.9,-8.9],[2001,-10.3],[2001.3,-11.3],[2002,-10.3],[1998.1,-11.1],[1998.4,-13],[1998.8,-13.5],[2004.7,-12.2],[2005.2,-14.3],[2005.7,-17],[2005.1,-17.3],[2005.2,-19.5],[2014.2,-16.4],[2014.6,13],[2010,12.3],[2014.8,3.9],[2015.5,-3.2],[2009.6,.8],[2009,-7.2],[2011,-.5]];

const b1A=[[1971.6,8.1],[1970.7,-4],[1971.1,-32.5],[1980.9,31.3],[1981.2,4.9],[1981.1,0],[1979.7,-5],[1979.3,-5.5],[1980.3,-14.7],[1981,-18.7],[1981.5,-28.4]];
const b3A=[[1979.3,-1.5],[1982.4,1],[1981.7,-1.9],[1982.3,-6.5],[1982.4,-10.4],[1981.8,-12.8],[1982.4,-12.7],[1982.3,-16.1]];
const b4A=[[1982.9,21.9],[1982.9,18.4],[1987.2,15.2],[1986.8,13.6],[1987.8,13.2],[1988.1,10.9],[1985.8,9.7],[1987.3,10.3],[1989.3,9.7],[1989,9.4],[1987.2,9.5],[1987.6,8],[1988.1,7.9],[1988.3,7.8],[1987,7],[1987.1,6.5],[1985.5,6.4],[1987.6,5.3],[1987,4.8],[1987.4,4.6],[1988,4.4],[1986.2,4.5],[1986,4],[1987.2,3.2],[1988,3.3],[1983.4,3],[1985.4,3.1],[1985.8,2.9],[1986.2,2.6],[1988.4,2.7],[1989,2.5],[1985.7,1.9],[1985.5,1.1],[1983,1.2],[1987.9,1.9],[1986.8,1.2],[1987.3,.8],[1988.6,.8],[1982.2,.6],[1985.3,.2],[1985.7,-.4],[1986.5,-.6],[1987.2,-.4],[1987.8,-.2],[1988.3,-.6],[1983.7,-.6],[1985,-.9],[1985.5,-1.3],[1986,-1.8],[1986.6,-2.1],[1987.4,-1.6],[1988,-1.7],[1988.7,-2],[1984.1,-2.3],[1984.3,-2.2],[1985.2,-2.6],[1985.8,-3.2],[1986.4,-3.2],[1987,-2.6],[1987.6,-3],[1988.2,-3],[1988.8,-3.8],[1983.7,-3.3],[1985,-3.7],[1985.5,-4.3],[1986.1,-4.2],[1986.7,-4.5],[1987.3,-4.6],[1987.9,-4.3],[1988.5,-4.9],[1989,-4.1],[1982.1,-4.2],[1982.4,-4.7],[1984.1,-5.6],[1985.3,-5.3],[1985.9,-5.6],[1986.5,-5.9],[1987,-5.7],[1987.5,-5.6],[1988.2,-5.7],[1982.5,-6.5],[1984.5,-7.2],[1985,-6.8],[1985.5,-7],[1986,-7.3],[1986.6,-7],[1987.2,-7.3],[1987.8,-7],[1988,-8.2],[1984.6,-7.6],[1985.4,-8.5],[1985.9,-8.3],[1986.4,-8.2],[1987,-8.6],[1987.6,-8.3],[1982.5,-9.3],[1984.3,-9.2],[1985,-9.3],[1985.6,-9.2],[1985.9,-9.6],[1988.1,-8.8],[1988.4,-9.3],[1983.9,-10.8],[1984.7,-11.3],[1985.2,-11.2],[1985.6,-11],[1986.6,-11.1],[1987,-11],[1987.7,-11],[1988.2,-11.1],[1988.5,-11],[1988.4,-10],[1982.3,-10.9],[1986,-12],[1986.2,-12.7],[1986.8,-12.5],[1987,-12.6],[1985,-14],[1985.7,-14.3],[1986.3,-13.6],[1986.6,-14.5],[1986.9,-14.8],[1985.8,-15.5],[1986.1,-15.8],[1986.8,-16],[1987.6,-15.6],[1986.5,-17],[1985.7,-17.6],[1985.8,-19.4],[1985.7,-20.4],[1983,-20.7],[1986.5,-21.5],[1988.5,-20.6],[1988.7,-22.2],[1985.3,-24.5],[1986.6,-25],[1983.2,-26],[1986.1,-28],[1987.9,-27.7],[1986.6,-31.5],[1986.2,-6.4],[1986.8,-6.4],[1987.4,-6.7],[1986.3,-5],[1986.9,-3.6],[1985.6,-2.2],[1985.9,-.9],[1985.1,-5.9],[1985.4,-6.2],[1986.2,-8.9],[1986.9,-9.7],[1987.4,-9.5],[1985.3,-8],[1986.4,-10],[1987.2,-2],[1987.6,-4.5],[1988.3,-2],[1988.6,-3],[1986.1,-.3],[1985.2,-1.8]];
const b5A=[[1992.9,19.3],[1993.9,15.9],[1996,16.4],[1991.8,14],[1992.2,10.8],[1992.9,11.5],[1993.8,10.3],[1991.6,10],[1992,9.7],[1994.6,9.7],[1993,8],[1993.3,8.4],[1996,7.4],[1991.9,6.8],[1992.1,6.6],[1992.5,5.8],[1991.9,4.8],[1992.3,4.8],[1993,4.5],[1993.3,4],[1994.2,3.7],[1992.3,3.8],[1991.6,2.4],[1992,2.8],[1992.5,2.6],[1992.9,2],[1993.6,1.7],[1992.2,1.8],[1992.8,1.2],[1993.3,1],[1991.9,-.3],[1992.4,-.5],[1993.7,.2],[1991.5,-1.6],[1992,-1.5],[1992.5,-1.5],[1993.1,-1.7],[1993.5,-1.9],[1992.6,-2.5],[1993.8,-3.3],[1992.3,-3.8],[1992.9,-3.7],[1993.3,-3.5],[1994.3,-3.9],[1992.8,-4.5],[1993.2,-4.8],[1993.7,-5],[1992,-5.3],[1992.4,-5.6],[1994.4,-5.8],[1991.9,-6.3],[1992.2,-6.7],[1993,-6.8],[1993.5,-6.5],[1994,-6.6],[1994.3,-6.8],[1991.9,-7.3],[1993,-8],[1992,-8.5],[1992.7,-8.5],[1993.6,-7.9],[1991.5,-9.7],[1994.5,-11.5],[1992.1,-12.4],[1993.9,-13],[1992.9,-14.3],[1992.6,-16.9],[1993.3,-17.2],[1993.3,-18.4],[1994.2,-19.3]];
const b1Z=[[1996.9,36.3],[1996.9,19.7],[1996.9,19.3],[1994.8,18.9],[1996.7,15.3],[1995.1,14.5],[1995,14.3],[1996.8,14.4],[1996.8,13.8],[1995.4,13.3],[1995.6,13.2],[1997.1,13.2],[1995.6,11.8],[1995,11],[1996.6,11],[1996.3,10.7],[1995.9,10.5],[1998.1,11.3],[1997.9,9.9],[1995.2,9.1],[1995.2,8.5],[1995.9,9.5],[1996.4,9.2],[1996.7,9.2],[1997.8,9],[1994.1,8],[1994.5,7.4],[1995.4,6.8],[1996.3,6.9],[1996.7,6.7],[1995.5,5.8],[1994.1,5.5],[1997,5.8],[1995.2,4.6],[1995.5,4.6],[1996,4.2],[1996.4,4.6],[1997.1,5],[1997.4,4.6],[1995,3.8],[1995.4,3.6],[1996.1,3.5],[1996.5,3.7],[1994.4,2.4],[1994.8,2.4],[1995.2,2.4],[1996.8,2.6],[1998.2,2.5],[1997.5,1.5],[1996,.7],[1993.4,.4],[1994.4,.1],[1996.7,.1],[1997.1,0],[1997.5,0],[1997.8,0],[1996,-.5],[1994.1,-1.3],[1995.8,-2.1],[1994,-1.8],[1997,-1.3],[1997.3,-1.7],[1994,-2.7],[1994.1,-3.2],[1996.2,-3],[1998.4,-3.4],[1993.9,-4],[1997.8,-3.8],[1995.9,-4.6],[1997.3,-4.7],[1998.2,-5.5],[1997.9,-8],[1994.1,-10],[1994.4,-12],[1994,-19.5],[1994.3,-20.6],[1994,-23.4],[1994,-24],[1998.1,-22.9]];
const b6A=[[1998.2,30.3],[2002,24.9],[1997.9,17.4],[1997.7,17],[1998.4,15.6],[1997.7,15.3],[1999.4,14.2],[2003.7,15.6],[1999.8,11.7],[2005.2,11.3],[1997.6,11.4],[1997.8,10.2],[2000,10.1],[1997.3,9.7],[1998.4,8],[1998,7.8],[1997.9,7],[1998.5,7],[1998.9,6.5],[2003,9.2],[1997,6.7],[1998.2,6.2],[1997.2,5.8],[1998.7,4.7],[1998.2,5],[2002.6,5.8],[1997.4,3.6],[1998,3.1],[1999.2,2.8],[1999.8,2.6],[2000.6,3],[2001,2.4],[2005.5,5.5],[2005.4,3.8],[2004.5,3.4],[1998.3,.3],[1999.2,1.3],[2001.4,2],[2002,1],[2005.2,1.1],[1997.8,-.6],[1998.5,-1.9],[1998.9,-2.1],[2003.3,-.8],[2004.5,-3.9],[2000.7,-3.5],[2000.8,-4.7],[2001,-5.9],[2002,-4.9],[2003.1,-4.2],[2005.1,-3.1],[2005.2,-6],[2004.9,-7],[1997.1,-4],[1997.2,-7],[1997.6,-5.8],[1997.4,-6.4],[1998.7,-8.2],[2005.5,-9.2],[2005.9,-11.8],[2005.3,-12.4],[2005.3,-14.8],[2014.4,13],[2009.9,16.9],[2009.7,4.8],[2010.8,3.4],[2014.9,3.8],[2015.5,-3.1],[2014.4,-16.4],[2009,-3.6]];

const c1A=[[1971.5,27.5],[1970.7,7.8],[1971.1,7.2],[1980.9,39.3],[1981.1,24],[1981,13.8],[1979.3,12.2],[1981.2,7.3],[1979.7,5.6],[1981,4.7],[1980.2,.5],[1981.4,-1.8]];
const c3A=[[1979.2,33.9],[1979.2,24.7],[1979.2,18.4],[1979.2,13.9],[1981.7,11.1],[1981.9,9],[1982.4,8.1],[1982.3,4.9],[1981.7,4.3],[1982.3,1.6],[1982.3,1],[1982.3,-2]];
const c4A=[[1988.1,34.5],[1983.2,28.2],[1985.1,26.7],[1985.8,24.7],[1987,25.6],[1988,25.6],[1988.4,27.2],[1989.3,25.5],[1982.8,21.4],[1985.4,21.2],[1985.6,22],[1987.9,23.4],[1988.3,22.5],[1989,22.7],[1989,21.6],[1987,21.2],[1987.7,20.7],[1987.5,19.5],[1982.9,19.4],[1985.9,19.3],[1988.6,19.3],[1989,19.2],[1987.7,18.2],[1985.2,18],[1985.7,18.2],[1986.1,18],[1988.8,17],[1989.1,16.6],[1989.4,17.2],[1987,17.1],[1987.3,17.2],[1985.6,16.8],[1985.5,16],[1985.8,15.6],[1986.1,16.2],[1988.2,16.3],[1989,15.3],[1989.3,15.5],[1983.9,15.4],[1986,14.8],[1986.8,15],[1988.1,15.5],[1988.9,14.6],[1989.3,14.1],[1989.6,14.7],[1985.6,13.8],[1985.4,13],[1986.6,13],[1987.1,13.5],[1987.6,13.5],[1982.7,13.5],[1983.4,13],[1984.6,13.7],[1988.4,12.6],[1985.8,12],[1986.2,12.2],[1986.7,12],[1987.2,12.4],[1984.8,11.8],[1985.5,11.3],[1986,11],[1986.6,11],[1987.1,11],[1987.6,11.6],[1988.1,11.2],[1988.6,12],[1989.1,11.1],[1985.3,10.2],[1985.8,10.1],[1986.4,10.2],[1987,10],[1987.5,10.5],[1988.2,10.6],[1988.7,10.2],[1983.7,10],[1984.4,9.8],[1985.3,9.2],[1985.8,9.2],[1986.4,9.5],[1987.8,9.3],[1988.2,9.2],[1988.9,9.2],[1985.2,8.3],[1985.8,8.6],[1986.4,8.6],[1987,8.5],[1987.5,8.1],[1988.2,7.8],[1988.8,8],[1989.3,8.2],[1990.2,10.9],[1982.2,9],[1982.7,8.4],[1986.7,7.8],[1987.5,7.4],[1988,7.3],[1988.6,7.5],[1989,7.8],[1985.1,6.9],[1987.4,6.6],[1986.5,6.5],[1986.3,6.2],[1987.5,6],[1988.3,5.7],[1988.4,5.6],[1982.4,5.8],[1985.2,5.3],[1985.5,4.8],[1986,4.5],[1986.6,4.6],[1987.1,5],[1984.3,3.9],[1984.6,3.5],[1986.4,3.5],[1987,3.6],[1985.2,2.4],[1985.9,3],[1986.3,2.5],[1987.1,2.2],[1988,2.2],[1988.4,3],[1983.1,2.5],[1983.3,2],[1986,1],[1986.5,1],[1989,1.5],[1985,.5],[1986.9,.1],[1987.2,.6],[1986.9,-.3],[1985.4,-1.2],[1986.1,-1.1],[1985.4,-2.3],[1986.6,-1.8],[1988.4,-.9],[1983.8,-3.1],[1985,-3],[1986.9,-3],[1987,-3.6],[1986,-4.3],[1989,-5.1],[1987,-6.1],[1988.3,-8.9],[1986.5,-10.3],[1985.5,-15.7],[1986.6,-21],[1987.1,-39.4],[1985.6,9.9],[1986.1,9.8],[1986.6,9.8],[1985.9,11.5],[1986.4,11.5],[1986.1,12.8],[1987.4,9.5],[1988.5,9.5],[1987.9,8.6],[1985.6,7.6],[1988.2,10],[1987.3,11.4],[1986.9,12.3],[1985.5,14.4],[1985.9,13],[1988.6,13.6],[1988.7,14.9],[1986.8,3.4],[1986.5,2.2],[1985.7,3.7]];
const c5A=[[1992.8,38.4],[1996.1,36.9],[1993,35.8],[1994.8,31.2],[1991.8,29.7],[1992.9,30],[1993.2,30.2],[1993.1,29],[1991.9,27.4],[1993.6,28.2],[1993.9,28.2],[1996,27.4],[1991.7,26.7],[1992.3,26.4],[1993.8,25.7],[1993.3,25.4],[1992.1,24.8],[1994.2,23.5],[1993.1,22.9],[1992.7,21.6],[1992,21.2],[1993.1,20.1],[1992.1,20],[1992.4,18.8],[1992.8,18.9],[1993.4,18.3],[1994.7,19],[1991.4,17.5],[1992.4,17.5],[1992.9,17],[1991.3,16],[1991.7,16.5],[1992.3,16.2],[1994,16.9],[1992.9,15],[1993.4,14.9],[1991.7,14.1],[1992.2,13.8],[1992.6,14.2],[1993,14.3],[1993.9,14.4],[1994.5,14],[1992.1,12.6],[1993.6,12.5],[1991.9,11.4],[1992.8,11.6],[1993.2,11.7],[1994.3,11.5],[1991.4,10.7],[1992,10.7],[1993.4,10.2],[1993.9,10],[1992,9.4],[1994,9.5],[1991.7,9.2],[1992.4,9.1],[1993.5,8],[1994.2,8.3],[1994.5,9],[1991.9,5.6],[1993,6.3],[1994.6,5.5],[1994.7,5],[1994,5.2],[1991.8,4.4],[1992,4.5],[1993.2,4.6],[1993.7,4.6],[1992.4,3.5],[1994.6,3],[1994.7,2.5],[1992.7,-.3],[1992.8,-3.6],[1993.5,-2.2],[1993.6,-4.9],[1994.7,-1.6]];
const c1Z=[[1995.6,38.6],[1997.3,37.5],[1995.3,35],[1996,34.2],[1997.5,33.8],[1996.4,31.7],[1995.4,29.5],[1996.5,29.2],[1995.1,28.3],[1995.7,28],[1995.4,26.9],[1995.6,26.9],[1996.3,25.8],[1995.2,25],[1996.8,25],[1997.1,25],[1997.2,24.2],[1998,24.7],[1995.7,23.5],[1996.1,23.9],[1997,23.7],[1995.7,22.5],[1996.7,23.2],[1995.4,21.3],[1996.5,21],[1996.1,20.3],[1996.7,20.2],[1997.1,20.2],[1997.4,18.7],[1996,18.8],[1996.5,18.6],[1994.2,17.6],[1995.2,17.2],[1996.3,16.5],[1997.5,16.8],[1993.5,15.8],[1994.6,15.5],[1994.4,15],[1995.9,15.5],[1996.3,15.4],[1996.7,15],[1994.3,14.3],[1994.2,13.7],[1995.7,14.2],[1996,13.7],[1997.7,14.3],[1997.3,13.3],[1994.8,12.7],[1994.6,12],[1994.9,12.6],[1996.2,12.2],[1996.6,12],[1997.1,11.8],[1997.3,11.3],[1994.6,11.5],[1997.5,10.4],[1997.9,10.4],[1994.5,10],[1997.1,10],[1998,9.8],[1994.5,8.7],[1994.5,6.8],[1996,6.8],[1998.1,6.8],[1997.7,5],[1998.7,6],[1997.3,3.2],[1998.9,2.7],[1997.5,-.1],[1997.9,-3.1],[1998.1,-5.5],[1998.3,-6.9],[1998.3,-7.4],[1997.8,-7.7],[1999,-5.4],[1999.2,-11.2],[1998.8,-13],[1999.2,-14.3],[1998.2,-7.8]];
const c6A=[[1997.5,26],[1997.2,25.6],[1997.7,25],[1996.9,22],[1996.9,21.2],[1997.8,18.8],[1997.4,17.5],[1997.4,16.3],[1998.1,13],[1999,11.9],[2002,10.4],[1997.9,11],[1999,9.5],[1999.2,8.7],[1997.6,9.2],[1997.6,7],[1997.9,7.4],[1998.2,7.8],[1998.7,6.3],[1999.2,6],[1999.5,5.5],[2000,5.3],[2002.4,6.5],[2003.5,6.5],[2004.9,7.5],[2005.1,6.2],[1998.2,3.4],[1998.5,3.3],[1998.8,3.7],[1999.6,4.5],[2000.3,3.9],[1997.2,1.8],[2000.2,.6],[2001,.8],[1999,.4],[1999.2,-.6],[2001.4,-.7],[2002.1,-1.5],[1997.8,-1.1],[1998,-.8],[1998.2,-1.1],[1997.7,-2.4],[1998,-2.7],[1997.4,-2.6],[1998,-4.5],[2000.2,-4],[2000.7,-4.6],[2001.5,-5],[2000.7,-7],[2003,-4.5],[2005.1,-2.9],[2005.3,-4],[2005.5,-3],[2005.7,-3.2],[2005.2,-13.4],[2005.6,-14.6],[2005.7,-9.8],[1997.9,-6.7],[1998.2,-7],[1999.8,-12.6],[1999.3,-17.4],[2000.3,-28.2],[2014.7,12.2],[2015.4,-5.8],[2009.8,-3.8],[2015.3,.7]];

const d1A=[[1971.5,12.4],[1970.7,-1.6],[1971.1,-9.9],[1980.9,21.8],[1981.1,9.4],[1981,3.8],[1979.3,-.3],[1979.7,-4.6],[1981.2,-5.8],[1981.1,-7.7],[1980.3,-10.9],[1981.5,-11.5]];
const d3A=[[1979.2,15],[1979.2,8.6],[1979.3,4.3],[1981.7,.5],[1981.9,-.8],[1979.2,-2.8],[1981.7,-4.7],[1982.4,-5],[1982.3,-7.9],[1982.4,-10.7],[1982.4,-11],[1982.3,-12.2]];
const d4A=[[1988.1,20.3],[1985,15.3],[1985.8,13.2],[1988.1,13.9],[1988.4,13.2],[1987.8,11.2],[1983.3,10.3],[1989.4,10.3],[1987.7,9.6],[1982.6,8.7],[1985.5,8.6],[1985.7,8.2],[1987.2,8.1],[1986.6,7.9],[1986.9,8],[1988.2,8.1],[1988.7,8.1],[1985.3,7],[1985.6,7.3],[1986.4,7.3],[1987.1,7.2],[1987.5,7.3],[1982.7,6.6],[1985.6,6.1],[1988.4,6],[1988.9,6],[1987.7,5.5],[1983.4,4.4],[1985.5,4.4],[1985.4,3.8],[1986.5,4.1],[1988.8,4.6],[1989.3,4.2],[1987.5,3.7],[1987.7,3.9],[1988.6,3.5],[1989,3.2],[1982.4,2.9],[1984.7,2.6],[1985,1.8],[1985.4,2.3],[1985.8,1.8],[1989.2,2.3],[1985.5,1.1],[1986,1.4],[1986.6,2],[1987.1,1.2],[1987.7,1.9],[1988.3,1.1],[1988.8,1.3],[1989.3,1.1],[1985.3,.4],[1985.8,.5],[1986.4,.4],[1987,.7],[1987.6,.6],[1983.1,.1],[1983.4,-.6],[1985.3,-.6],[1985.8,-.5],[1986.3,-.5],[1986.8,-.5],[1987.4,-.5],[1988,-.5],[1988.6,-.1],[1989.3,.1],[1984.4,-1],[1985.2,-1.4],[1985.7,-1.4],[1986.3,-1.6],[1987,-1.5],[1987.7,-1.5],[1988.3,-1.4],[1982.5,-1.6],[1985.4,-2.4],[1986,-2.3],[1986.5,-2.5],[1987.3,-2.6],[1988,-2.3],[1988.8,-1.8],[1989.7,-1.4],[1985.1,-3.2],[1985.8,-3.2],[1986.3,-3.6],[1986.8,-3.6],[1987.5,-3.5],[1988.3,-3.2],[1988.6,-3.2],[1985.3,-4.4],[1985.9,-4.3],[1986.4,-4.8],[1986.9,-4.7],[1987.4,-4.5],[1988.2,-4.3],[1982.3,-4.1],[1985,-5.2],[1985.6,-5.2],[1986.2,-5.4],[1986.7,-5.6],[1988,-5],[1988.5,-5],[1989.1,-4.7],[1982.3,-6.5],[1983.1,-6.3],[1984.1,-6.6],[1984.6,-6.6],[1985.1,-6.2],[1985.6,-6.3],[1986.4,-6.5],[1987,-6.2],[1987.5,-6.8],[1988.1,-6.7],[1983.3,-8],[1985.9,-7.5],[1986.2,-7.6],[1986.8,-7.4],[1988,-7.3],[1988.5,-7.4],[1986.5,-8.7],[1987.2,-8.3],[1984.7,-9],[1985.2,-9.5],[1986.1,-9.6],[1986.6,-9.9],[1987.3,-9.6],[1988,-8.9],[1985.2,-10.6],[1986.3,-11],[1987,-10.7],[1988.3,-11],[1986.4,-11.9],[1987,-11.4],[1985.4,-11.5],[1985.2,-12.6],[1985.9,-13.9],[1986.8,-14.1],[1984,-14.7],[1988.9,-14.1],[1986.6,-17.8],[1987.9,-18.6],[1985.6,-23.1],[1986.6,-27.6],[1986,-.1],[1986.6,-.9],[1987.3,-.2],[1987.2,-3.3],[1986.2,-2.9],[1986,-4.7],[1986.6,-4.2],[1987,-5.3],[1986.4,-6],[1986.9,-7],[1985.4,-5.7],[1985.8,-2.6],[1987.4,-1.2],[1987.9,-1],[1985.5,-1],[1986.8,-2.2],[1987.9,-3.9],[1986,-8.2],[1987.1,-9.1],[1986.5,-1.3]];
const d5A=[[1991.9,33.9],[1992.7,23.7],[1993,23.6],[1993,17.5],[1991.7,14.8],[1992,14.9],[1992.4,15.2],[1992,14],[1993.1,14.6],[1993.6,14.2],[1993.9,14.6],[1994.1,14],[1994.2,13.2],[1993.6,13.9],[1996,19.2],[1991.9,11.6],[1992.1,10.5],[1992.8,10.5],[1993.5,10.8],[1994,10.7],[1995.9,11.6],[1992.7,8.8],[1993,8.9],[1992.6,8.2],[1994.7,8],[1992.2,7.5],[1992.8,7.6],[1993,7.8],[1994,7.8],[1991.7,6.5],[1992.6,6.4],[1993.1,6.9],[1993.6,6.4],[1991.6,5.8],[1992.1,5.3],[1992.4,5],[1993.9,5.6],[1991.8,4.7],[1992.5,4.2],[1993.1,4.4],[1992.1,3.6],[1992.6,3.4],[1992.9,3.4],[1993.7,3.2],[1994.4,2.3],[1992.5,1.9],[1993.3,1.6],[1991.4,1.7],[1991.9,.5],[1992.3,.7],[1993,.3],[1993.5,.4],[1991.5,-.8],[1991.9,-.8],[1992.2,-.9],[1993.5,-1.2],[1994.6,-.6],[1992.2,-1.8],[1993.8,-2.1],[1994.4,-2],[1993.7,-3.3],[1994.7,-3.4],[1992.8,-3.5],[1993.8,-4.6],[1994.3,-4.5],[1991.9,-5],[1992,-5.1],[1993.1,-5.4],[1993.6,-5.2],[1994.2,-5.6],[1993.2,-6],[1994.5,-6.5],[1992.5,-7.4],[1992.9,-9.5],[1993.3,-10],[1994.8,-9.9],[1992.9,-11.8],[1993.6,-13.8]];
const d1Z=[[1995.5,30.2],[1995.1,24.5],[1995.1,24],[1995.6,22.4],[1994.9,18.8],[1995.4,16],[1994.9,14.8],[1995.1,15],[1995.5,15.2],[1996.2,15.5],[1997.3,17.2],[1997.3,16.8],[1995.3,12.2],[1995.2,11.6],[1995,10.7],[1996,13],[1996.4,13],[1996.2,11.7],[1997.6,12.4],[1997.3,11.8],[1996.6,11],[1995.5,8.2],[1996,9.4],[1996.5,9],[1996.9,9.5],[1998,10.7],[1997.9,8.9],[1995.8,8.4],[1996.2,7.8],[1996.4,8.6],[1996.2,7],[1996.6,6.5],[1997.5,7.2],[1994.9,6.3],[1995.2,5.2],[1994.2,5],[1996,5.5],[1996.4,5],[1996.9,5.2],[1993.8,3.8],[1996.7,4.2],[1997.5,5.7],[1999,4.8],[1994.5,2.8],[1994.9,2.5],[1995.4,2.4],[1996,2.8],[1996.7,3.2],[1997.4,3],[1994.7,1.4],[1995.7,1.9],[1996.9,2],[1994.8,1.2],[1997.3,1.3],[1996.1,.4],[1994.3,.2],[1996.6,.2],[1997,.2],[1997.4,0],[1994.2,-1.2],[1996.4,-1],[1996,-1.3],[1997.5,-1.3],[1998.1,-1],[1994.3,-2.8],[1994.3,-3.5],[1998.6,-3.6],[1994.4,-4.8],[1995.7,-5.6],[1998.1,-5.2],[1998.3,-5.7],[1998.3,-5.8],[1997.6,-5.9],[1997.1,-9],[1999.2,-9.5],[1997.2,-12.4],[1998.8,-11],[1999.1,-12.5]];
const d6A=[[1997.9,20],[1999.2,19.4],[1999.1,18.8],[1997,17.5],[1997.7,17.8],[1997.3,17.3],[1999,16.1],[1999.1,15.4],[1997.3,15.3],[1998.4,14.2],[1999.4,14.3],[1997.6,14],[1997.9,14.3],[2001.9,17.1],[2005,14.2],[2002.4,13.2],[2003.4,13.2],[1996.9,13],[1998.5,12.9],[1999.2,12],[1999.7,12],[2000,11],[2000.8,10.1],[2005.3,12.6],[1996.9,10.9],[1998.2,11.5],[1998.6,11.8],[1999.5,10.7],[2005.2,10.2],[2002.4,11.8],[1997.4,9.7],[1997.8,9.6],[1998.6,9.8],[1997,7.9],[1997.3,7.3],[1998.1,6],[1998.5,7],[1999.5,6],[2001,7.2],[2002.7,7.3],[1997.5,5.7],[1997.8,5.7],[1998.2,4.8],[1997.3,4],[1997.8,4],[2000.7,3.8],[1997.2,3],[1998,2.8],[1998.8,2.9],[2004.6,3.2],[2005.2,3.3],[1997.5,1.8],[1998.3,1.7],[1999.5,1.8],[2001.2,1],[2004.9,1.8],[1997.9,-1],[2005.7,-4],[1997,-2.4],[1996.9,-5.5],[1999.7,-7.2],[2005,-8.1],[2005.5,-9.4],[1997.2,-9.8],[2000.4,-23.7],[2014.7,12.2],[2015.4,.6],[2009.8,3.2],[2009.4,-.2]];

const e1A=[[1971.5,30.1],[1971.5,25],[1970.7,-4],[1980.9,36.8],[1981.1,24.9],[1981.2,15.6],[1981.2,11.7],[1979.7,8.3],[1981.4,3.8],[1979.3,-1.3],[1980.2,-2.1],[1981,-2.1],[1981,-13.3]];
const e3A=[[1979.2,25],[1979.2,24.4],[1979.2,16],[1982.4,11.9],[1981.7,9.3],[1982.3,8.3],[1979.2,1.3],[1981.7,-4],[1981.9,-7.6],[1982.3,-6.8],[1982.3,-7.5],[1982.3,-10.2]];
const e4A=[[1985.3,26],[1985.7,25.8],[1986.8,26.6],[1987.1,25.6],[1987.4,26.8],[1988.3,25],[1986.3,24.1],[1986,22.9],[1987.4,23.6],[1988.2,23],[1985.5,21.4],[1986.1,19],[1986.2,19.3],[1986.5,19],[1986.7,19.2],[1988.5,17.9],[1984.9,18.9],[1986.6,18.4],[1989,16.6],[1983,15.8],[1983.7,15.9],[1984.4,15.9],[1986.6,16],[1986.9,15.3],[1987.3,15.6],[1987.5,16],[1989,16],[1989.4,16],[1987.3,14.9],[1989,15],[1986.2,14.6],[1986.3,14],[1986.6,13.4],[1987,14],[1987.2,13.5],[1983.5,13.9],[1985.1,13],[1985.3,12.3],[1986.1,13],[1986.6,12.9],[1987.7,12.3],[1988.4,12.8],[1988.9,12.7],[1989.9,13],[1987.9,11.2],[1988.3,11.7],[1989,11.4],[1989.3,11.6],[1982.3,10.9],[1985.4,10.9],[1986.1,11.3],[1987.9,10.3],[1984.2,9.3],[1984.6,9.3],[1985.3,9],[1985.8,9.2],[1986.4,9.5],[1988,9.8],[1989,9],[1983.3,9],[1983.7,8.6],[1985.6,8.3],[1986.1,8.4],[1987.3,9],[1988.7,8.2],[1989.1,8],[1982.4,8],[1985.2,7.6],[1985.9,7.7],[1986.4,7.6],[1987,7.3],[1987.4,7.3],[1988.3,7.5],[1984,7.3],[1985.9,6.6],[1986.7,6.7],[1987.3,6.5],[1987.9,7],[1988.6,7],[1985.3,6],[1986.1,5.8],[1987.6,5.5],[1988.2,5.8],[1989.1,6],[1986.5,5.2],[1987.1,5],[1987.8,5.2],[1989.4,5.4],[1986,4.3],[1986.6,4.6],[1988.5,4.2],[1988.9,4.2],[1989.5,4],[1984.5,3.2],[1984.6,2.9],[1985.3,3.8],[1985.7,3.6],[1986.8,3.8],[1987.3,3.8],[1987.9,3],[1988.5,2.8],[1982.3,4],[1986,2.8],[1986.8,2.5],[1982.2,1.6],[1986.2,1.6],[1987.1,1.9],[1987.6,1.7],[1988.9,1.5],[1989.1,1],[1986.6,.8],[1987.2,.8],[1988,.9],[1985.6,.4],[1986.3,.2],[1986.9,.3],[1987.5,.2],[1988.2,0],[1987.2,-.4],[1986.7,-.6],[1988,-.7],[1985.4,-.9],[1986,-1],[1987.4,-1.1],[1987.9,-1.4],[1983.4,-1.3],[1983.1,-1.8],[1985,-1.4],[1984.8,-2],[1987.6,-1.9],[1988.4,-1.6],[1982.6,-2.4],[1985.7,-2.6],[1988.3,-2.8],[1985.2,-3.4],[1985.7,-3.5],[1987.3,-3.4],[1987.9,-3.2],[1986.5,-3.8],[1986.9,-4],[1988.8,-3.9],[1985.1,-4.8],[1989,-4.7],[1986.6,-5.2],[1982.6,-5.4],[1987.1,-6.8],[1986.2,-7],[1985.9,-7],[1986.6,-7.2],[1989,-7.2],[1989.1,-8],[1987.3,-7.4],[1986.4,-8],[1986.2,-8.4],[1988,-8.2],[1985.7,-9.4],[1987.1,-9],[1987.1,-10],[1990,-8.2],[1983,-10.3],[1984.5,-11],[1988.4,-10.4],[1988,-11.2],[1985.5,-12.6],[1986,-12.4],[1986.3,-14.6],[1985.7,-16.8],[1986.8,-16.9],[1987.4,-17],[1983.2,-16.2],[1986.7,-22.8],[1987,-26.8],[1986.6,-1.3],[1987.1,-1.6],[1987.7,-.5],[1987.1,1],[1987.6,.8],[1986.4,1.5],[1986.9,1.3],[1986.3,6.6],[1986.8,5.7],[1987.4,6.2],[1985.5,5],[1986.1,4],[1987.2,2.9],[1987.8,4.1],[1985.9,8.7],[1986.7,8.5],[1986.5,2.8],[1987.5,-.7],[1988.5,.2],[1988.7,5.7]];
const e5A=[[1992.9,27.3],[1992,25.5],[1994.3,24.1],[1993.8,23],[1991.4,21.4],[1994.1,21.5],[1994.3,21],[1992.6,19.7],[1994.6,18.6],[1992.7,17.2],[1994.4,15],[1994.7,15.8],[1996,15.9],[1991.9,13.9],[1992.1,12],[1992.5,11.7],[1992.9,11],[1993.3,11.7],[1993.7,11.9],[1991.9,10.8],[1992.1,9.9],[1996.1,10.7],[1993.4,10.7],[1994.1,10],[1994.4,9.6],[1992,9.2],[1994,9],[1992.2,7.1],[1992.8,7],[1994.2,6.9],[1994.6,6.5],[1991.8,5.5],[1992.1,4.9],[1993.4,5],[1993.7,5.6],[1994,5.7],[1992.2,3.5],[1992.8,3],[1992,2.5],[1991.6,2.1],[1993.3,2.5],[1993.5,1.6],[1994.6,2.1],[1992.3,1.1],[1992.9,1.5],[1991.8,.7],[1993.3,-.1],[1994,-.2],[1992,-.4],[1994.9,-1.5],[1994.8,-2],[1992.9,-2.4],[1993.2,-2.8],[1993.7,-3],[1992.4,-3.6],[1991.9,-3.8],[1992.9,-4],[1993.2,-3.8],[1993.6,-4],[1991.5,-4.6],[1991.9,-4.8],[1992.4,-5],[1992.9,-4.9],[1993.5,-5],[1994,-4.8],[1992.3,-5.8],[1993,-5.8],[1994.3,-3.2],[1996.1,-3.5],[1992,-6.5],[1993.4,-7.1],[1994.7,-6.6],[1992.8,-7.5],[1993.2,-8],[1991.4,-8],[1993.5,-8.6],[1993,-8.8],[1992,-10],[1992.6,-10.3],[1993.1,-10.3],[1993.5,-10.8],[1992.2,-11.4],[1992.7,-12.1],[1992.8,-13],[1993.7,-14.8],[1994.2,-15]];
const e1Z=[[1996.2,33],[1997.3,30],[1994.5,28.4],[1994.6,23.3],[1996.9,21.9],[1994.5,21.5],[1995.2,20.5],[1996,19],[1996.1,18],[1995.6,16.2],[1994.6,15.8],[1996.3,15.7],[1996.8,15.7],[1997,14.2],[1997.2,14],[1997,13],[1993.7,12.8],[1995.5,12.7],[1998.1,11],[1995.6,11],[1994.5,10.1],[1997.6,9],[1997.3,8.3],[1996.1,8.9],[1995.9,8.8],[1995.2,8.2],[1995,7],[1995.5,6.9],[1997,7.8],[1997.4,7.2],[1996.9,6.8],[1994.8,6.5],[1998,6.5],[1997.2,6],[1996.7,5.8],[1996.3,5.4],[1995.8,5],[1994.5,5],[1996.2,4.2],[1995.4,4],[1998.3,4],[1996,3.3],[1996.5,2],[1996.6,1.6],[1996.1,1.4],[1998.3,2],[1995.6,.8],[1995.2,.7],[1994.8,.2],[1995.5,-.5],[1996.1,-.5],[1996.9,-.7],[1997.3,-.9],[1994.9,-.9],[1995.8,-1.4],[1995.5,-2.6],[1994.4,-2.6],[1995.5,-3.7],[1996,-3.8],[1994.6,-4.2],[1997.5,-4],[1997.2,-5],[1998.6,-4.7],[1997,-6],[1993.8,-7.3],[1996.9,-7.4],[1994.6,-8],[1994.6,-8.9],[1995.6,-8.5],[1997.8,-8.8],[1998,-8.4],[1996.2,-10],[1996.6,-11.7],[1996.9,-15.6],[1997.7,-14.3],[1997.6,-17.4]];
const e6A=[[1997.6,16.5],[1999.5,16.8],[2002,12.5],[1997.5,11.9],[1999.3,10.2],[2000.4,10.6],[1999,7.9],[1997.5,7.2],[1997.7,6.4],[2000.4,4.2],[1997.3,3.5],[1999.6,1.9],[1997.6,1.2],[1997.9,1.2],[1998.1,1],[1998.2,.5],[2005.3,.4],[1997.7,-1.6],[1998.4,-.5],[1999,-.6],[1998.4,-2.3],[1998.2,-3],[2001.8,-3.1],[2003.4,-2],[1997.9,-6],[1998.1,-7.5],[1998.7,-7.4],[1999.3,-7],[1999,-4],[2000.4,-4.7],[2002.8,-3.5],[2004.5,-5],[2003.2,-8.4],[2005,-8.3],[2001,-6.8],[1998,-11.4],[1997.8,-11.5],[1998.6,-12.7],[1999.3,-10.7],[1999.1,-12.5],[1999,-14],[2000.7,-10.3],[2002,-10.8],[2002.5,-11],[2004.7,-15],[2005.3,-15.6],[2005.2,-17.6],[1999.4,-17.8],[1997.6,-19],[1998,-19.6],[1998.3,-21],[1998.2,-22.2],[2005.2,-19.4],[2000,-17.2],[1999.4,-31.3],[2015,5.5],[2014.8,-3.9],[2015.5,-3.2],[2009.8,.3],[2010,-13.8],[2011,-2.3]];

const f1A=[[1971.1,33.7],[1971.6,21.8],[1971.6,17.4],[1970.7,-8.7],[1980.9,27.5],[1981.2,17],[1981.3,8],[1981.3,3.8],[1979.8,2.4],[1981.5,-1.8],[1979.4,-7.3],[1981,-6.9],[1980.3,-8.2],[1981.1,-18.9]];
const f3A=[[1979.2,15.8],[1979.2,15.4],[1979.3,6.8],[1982.4,4.6],[1981.8,3.6],[1982.3,1.1],[1979.3,-5.3],[1981.8,-8.7],[1981.9,-12.3],[1982.4,-12.8],[1982.4,-13.4],[1982.3,-15.3]];
const f4A=[[1987.7,18.5],[1986.3,17.9],[1985.4,17.8],[1986.1,17.2],[1985.7,16.5],[1987.3,16],[1985,14.7],[1985.3,14.8],[1988.2,15],[1988.2,13.6],[1985,13],[1984.8,12.3],[1985.5,11.9],[1985.9,11.6],[1985.8,11.1],[1988.5,10.8],[1988.9,10.8],[1982.6,9.1],[1983.4,9.8],[1988.9,9.6],[1988.9,8.8],[1987,8.8],[1988.3,8.7],[1985.9,8],[1986.2,7.5],[1986.4,8],[1987.5,7.7],[1989.3,8.6],[1983.2,6.7],[1985.4,5.9],[1986,6.5],[1987.1,6.9],[1988.2,6.5],[1989.2,5.8],[1989.8,6.1],[1988.4,5.5],[1987.4,5.2],[1987.8,4.8],[1988.8,4.6],[1989.1,4.2],[1988.2,4],[1985.5,4],[1985.9,3.5],[1983.4,2.9],[1984.4,3.1],[1985,3.1],[1986,2.9],[1988.7,2.6],[1982.3,2.5],[1985.5,1.6],[1986.4,1.9],[1987,1.9],[1987.4,2.1],[1988.2,1.7],[1988.7,1.5],[1982.4,1],[1983,1],[1985.4,.9],[1985.9,.8],[1983.7,0],[1985.4,-.3],[1987.4,-.4],[1988,-.5],[1988.6,-.6],[1986.2,-.7],[1987,-1.2],[1987.6,-1.4],[1988.3,-1.3],[1989,-1.5],[1989.5,-1.5],[1986.2,-1.8],[1986.7,-1.9],[1985.2,-2.5],[1984.6,-2.5],[1986.3,-3],[1987.8,-2.5],[1988.4,-2.8],[1989,-2.9],[1982.3,-2.6],[1985,-3],[1986.5,-3.8],[1988.6,-3.7],[1987.1,-4.4],[1987.8,-4.2],[1988.2,-4.6],[1986.6,-4.8],[1982.3,-5.6],[1985.6,-5.9],[1986.1,-6],[1986.7,-5.7],[1987.3,-5.7],[1987.7,-5.5],[1988.4,-5.4],[1989,-5.3],[1985.1,-6.5],[1985.8,-6.5],[1986.4,-6.5],[1987,-6.5],[1987.7,-6.6],[1988.3,-6.6],[1982.9,-6.7],[1984.4,-7],[1983,-7],[1984.9,-7.5],[1985.6,-7.3],[1986.2,-7.8],[1986.8,-7.6],[1987.3,-7.6],[1987.9,-7.8],[1988.5,-7.8],[1982.5,-7.7],[1985,-9],[1985.6,-9.2],[1986.3,-8.9],[1987,-8.7],[1988.2,-9],[1988.9,-9.3],[1987.1,-10.4],[1982.4,-10.3],[1985,-11.4],[1986.9,-11.2],[1988.1,-11.5],[1989.2,-11.8],[1986.1,-12.1],[1986.5,-12.6],[1985.9,-13],[1986.3,-13.3],[1987.3,-13.2],[1987.6,-12.6],[1989.2,-13],[1989.8,-12.4],[1986.9,-13.5],[1985.7,-14.8],[1986.9,-14],[1982.9,-14.6],[1984.6,-15.8],[1985,-16.7],[1985.7,-16.8],[1988,-16.2],[1988.5,-16.3],[1985.9,-19.5],[1983,-21],[1985.2,-21.2],[1986.2,-21.6],[1987,-21],[1986.6,-26.5],[1986.8,-30.2],[1986.8,-3.2],[1987.3,-3.1],[1986.9,-4.9],[1987.4,-4.8],[1987.2,-7],[1987.6,-7.1],[1987.4,-8.5],[1987.9,-8.6],[1986.6,-8.3],[1986,-8.6],[1986.9,-1.6],[1987.3,-.8],[1988,-1.9],[1988.2,-3.6],[1985.9,-3.6],[1986,-5],[1985.4,-5.2],[1988.5,-6.2]];
const f5A=[[1992.4,18.4],[1992,17.1],[1993.9,16.7],[1993.2,14.7],[1993.7,14.8],[1991.4,13.2],[1992.8,12.7],[1993.8,12],[1994.3,11.1],[1992.7,10.4],[1994.5,9.4],[1991.9,8],[1993.9,8.4],[1993.9,6.6],[1992.1,4.7],[1992.4,5],[1992.7,5.3],[1993.1,5],[1993.5,5],[1994,4.7],[1992.3,3.8],[1992.8,3.7],[1994.1,3.3],[1994.3,2.8],[1992.1,2.6],[1992.8,1.3],[1994.3,2.3],[1991.8,.2],[1992.3,.2],[1993,.2],[1993.6,.3],[1994.1,.1],[1992,-1],[1992.7,-1],[1993.2,-1],[1993.9,-.5],[1992.2,-2.5],[1992.6,-2.5],[1991.6,-3.8],[1992,-3.5],[1992.4,-3.3],[1992.9,-3.6],[1993,-4.3],[1994.2,-3.8],[1992.1,-4.6],[1992.6,-4.6],[1993.1,-5.1],[1991.9,-5.6],[1993.6,-5],[1993.2,-5.9],[1994.5,-6.6],[1994.6,-7],[1992.1,-6.6],[1992.1,-7.5],[1992.8,-7.5],[1993.3,-7.9],[1991.5,-8.8],[1992.4,-8.5],[1992.8,-8.6],[1993.3,-8.6],[1994,-8.9],[1994.3,-9.1],[1991.8,-9.6],[1992.3,-9.7],[1992.7,-9.5],[1993.2,-9.2],[1993,-10.3],[1992.2,-11.2],[1992.8,-11],[1994.8,-10.8],[1992.5,-12],[1993.1,-12.3],[1993.2,-13],[1994.4,-12.5],[1991.5,-13.3],[1993.2,-13.8],[1992.1,-14.7],[1992.6,-14.7],[1993.2,-15.3],[1992.2,-16.3],[1992.7,-17.3],[1993.8,-18.7],[1994.1,-20.2]];
const f1Z=[[1996,23.3],[1997,21.5],[1994.2,18.9],[1994.2,16.5],[1994.5,15.8],[1996.5,15.4],[1994.2,14.1],[1995.5,12.7],[1997.3,13],[1996.6,11.2],[1995.7,9.3],[1996.6,9.3],[1998.6,9.8],[1996.1,8.5],[1996.8,7.9],[1996,7.6],[1997.2,7.9],[1997.5,8.4],[1993.4,6.3],[1994.1,7.3],[1995.1,5.1],[1995.6,3.2],[1996.8,4.1],[1995.3,4],[1994,3.5],[1995.5,2.8],[1997.1,2.3],[1994.6,1.2],[1995,.9],[1995.6,1],[1996.7,.7],[1997.4,1.8],[1995,-.1],[1995.6,-.2],[1996.4,-.4],[1994.2,-1.6],[1995.1,-2.5],[1995.8,-2.2],[1996.5,-1.2],[1997,-1.2],[1996,-3.9],[1996.5,-3.8],[1997.3,-3.3],[1995.5,-4.5],[1994.7,-5],[1995.2,-5.2],[1998.6,-5.3],[1996.7,-5.8],[1997.1,-5.6],[1997.5,-5.6],[1995.5,-6.6],[1995.9,-6.8],[1995.3,-7.5],[1997.4,-7.5],[1994.2,-8.6],[1994.7,-9],[1995.5,-8.9],[1997.2,-8.9],[1996.1,-10],[1996.6,-10.4],[1997,-10.3],[1994,-11.8],[1996.4,-12.1],[1997.6,-12.3],[1996.8,-13],[1994.7,-13.5],[1995.7,-13.7],[1996,-15.4],[1996.5,-16],[1997.6,-15.8],[1996.8,-19.9]];
const f6A=[[1999.2,23.9],[2001.9,19.1],[2000,17.1],[1999.2,16.7],[2005.1,12.9],[1999,14.4],[1997.6,12],[2005.8,10.7],[2000,10.4],[1999.4,8],[1998.1,6.8],[2005.7,8.6],[1997.8,7.2],[1998.3,7.4],[1998.5,6.3],[2000.6,6.4],[2004.9,6.9],[2005.2,6.3],[1998.4,5.8],[1998.7,5.4],[1997.7,4.8],[1998,4.6],[2000.6,5],[2005.3,5.6],[2015,5.3],[1998.2,4],[1998.5,3.9],[2000,3.6],[2000.9,3.4],[2002.5,4.3],[2003.6,4],[2005.2,4.7],[2005.4,4.7],[1997.3,2.9],[1997.8,2.9],[1998.3,2.9],[2001.2,3],[2002.9,2.5],[2004.8,2.9],[2009.8,4.2],[2015.6,2.5],[1998.9,2.2],[1999,1.5],[2000.7,2],[2001,2.2],[2004.4,1.6],[2010.8,1.6],[1997.5,1.1],[1998.6,1.1],[2001.2,1.3],[1997.5,.4],[1998.6,.7],[1999.3,.3],[2002.4,.1],[2003,0],[2004.3,.4],[1997.9,-.3],[1997.7,-1],[1998,-1],[1997.9,-1.6],[1999.7,-.6],[2000.9,-1.2],[1997.7,-1.9],[1998.1,-2],[1998.6,-2],[1999.3,-1.8],[1999,-2.4],[1997.1,-2.8],[2002.6,-3.3],[2003.5,-3],[2009,-3],[1997.6,-3.5],[2005.2,-3.3],[1998.6,-3.3],[1997.7,-4.4],[2000.2,-4.4],[2015.5,-3.5],[2002.4,-4.4],[1999.5,-4.7],[2002,-5.2],[2000.1,-5.5],[1999,-5.7],[1997.9,-5.9],[2013.9,-4.1],[1998.8,-6.6],[1998.6,-7.5],[1999,-7.4],[2014.5,-6.4],[1999,-9],[2005.1,-8.1],[2004.8,-10],[2009.9,-10.4],[1999.5,-12.1],[1997.8,-12.9],[1998.7,-13],[2005.3,-12.6],[1998,-14.8],[2005.3,-14.8],[1998.3,-16.2],[1998,-17.5],[1997.5,-20.5],[1999.2,-27.4]];

const panels=[
 {id:"a",x0:90,ppy:15.33,right:860,top:9.1,bottom:596.7,labTop:8.3,labBot:594.5,xLabDy:34,tag:"(a)",tagX:98,tagY:38,era:[207,386,502,617,757],eraY:37,title:"SBUV vs ozonesonde % difference column ozone layer 10",titleY:302,titleLen:525,
  series:{"1A":a1A,"3A":a3A,"4A":a4A,"5A":a5A,"6A":a6A,"1Z":a1Z,"2Z":layer10_2Z},order:["1A","3A","4A","5A","6A","1Z","2Z"]},
 {id:"b",x0:955,ppy:15.59,right:1740,top:6.6,bottom:598.6,labTop:9.1,labBot:595.7,xLabDy:34.5,tag:"(b)",tagX:966,tagY:36,era:[1078,1257,1377,1493,1641],eraY:37,
  series:{"1A":b1A,"3A":b3A,"4A":b4A,"5A":b5A,"6A":b6A,"1Z":b1Z,"2Z":layer10_2Z},order:["1A","3A","4A","5A","6A","1Z","2Z"]},
 {id:"c",x0:90,ppy:15.33,right:860,top:684.3,bottom:1271.3,labTop:682.4,labBot:1268.6,xLabDy:34.5,tag:"(c)",tagX:98,tagY:716,titleY:980,titleLen:517,title:"SBUV vs ozonesonde % difference column ozone layer 9",
  series:{"1A":c1A,"3A":c3A,"4A":c4A,"5A":c5A,"6A":c6A,"1Z":c1Z,"2Z":layer9_2Z},order:["1A","3A","4A","5A","6A","1Z","2Z"]},
 {id:"d",x0:956,ppy:15.54,right:1737,top:684.5,bottom:1271.3,labTop:685.7,labBot:1272,xLabDy:35,tag:"(d)",tagX:966,tagY:716,
  series:{"1A":d1A,"3A":d3A,"4A":d4A,"5A":d5A,"6A":d6A,"1Z":d1Z,"2Z":layer9_2Z},order:["1A","3A","4A","5A","6A","1Z","2Z"]},
 {id:"e",x0:90,ppy:15.33,right:860,top:1360.7,bottom:1947,labTop:1366.8,labBot:1954.6,xLabDy:36,tag:"(e)",tagX:98,tagY:1390,titleY:1657,titleLen:533,title:"SBUV vs ozonesonde % difference column ozone layer 1-8",xTitle:474,
  series:{"1A":e1A,"3A":e3A,"4A":e4A,"5A":e5A,"6A":e6A,"1Z":e1Z,"2Z":layer18_2Z},order:["1A","3A","4A","5A","6A","1Z","2Z"]},
 {id:"f",x0:955,ppy:15.59,right:1740,top:1359.9,bottom:1947.3,labTop:1362.6,labBot:1949.5,xLabDy:36,tag:"(f)",tagX:966,tagY:1390,xTitle:1348,
  series:{"1A":f1A,"3A":f3A,"4A":f4A,"5A":f5A,"1Z":f1Z,"2Z":layer18_2Z,"6A":f6A},order:["1A","3A","4A","5A","1Z","2Z","6A"],legend:true}
];
const colors={"1A":"#E36C0A","3A":"#000000","4A":"#0070C0","5A":"#7030A0","1Z":"#00B050","2Z":"#00B0F0","6A":"#FF0000"};
const NS="http://www.w3.org/2000/svg";
const root=document.getElementById("chart");
function mk(tag,parent){const e=document.createElementNS(NS,tag);parent.appendChild(e);return e;}
function xScale(p,year){return p.x0+(year-1967)*p.ppy;}
function yScale(p,val){return p.top+(40-val)*(p.bottom-p.top)/80;}

const defs=mk("defs",root);
panels.forEach(function(p){
  const cp=mk("clipPath",defs);cp.setAttribute("id","clip-"+p.id);
  const r=mk("rect",cp);r.setAttribute("x",p.x0);r.setAttribute("y",p.top);r.setAttribute("width",p.right-p.x0);r.setAttribute("height",p.bottom-p.top);

  const g=mk("g",root);
  
  

  yTickLabels.forEach(function(v){
    const l=mk("line",g);
    
    
    l.setAttribute("x1",p.x0);l.setAttribute("x2",p.right);
    l.setAttribute("y1",yScale(p,v));l.setAttribute("y2",yScale(p,v));
    l.setAttribute("stroke","#444");l.setAttribute("stroke-width","1.4");
    const t=mk("text",g);
    
    
    t.setAttribute("class","tick");
    t.setAttribute("x",p.x0-16);
    t.setAttribute("y",p.labTop+(40-v)*(p.labBot-p.labTop)/80+6.5);
    t.setAttribute("text-anchor","end");
    t.textContent=v+" %";
  });

  const frame=mk("rect",g);
  
  
  frame.setAttribute("x",p.x0);frame.setAttribute("y",p.top);frame.setAttribute("width",p.right-p.x0);frame.setAttribute("height",p.bottom-p.top);
  frame.setAttribute("fill","none");frame.setAttribute("stroke","#333");frame.setAttribute("stroke-width","1.4");
  const xa=mk("line",g);
  
  
  xa.setAttribute("x1",p.x0);xa.setAttribute("x2",p.right);xa.setAttribute("y1",p.bottom);xa.setAttribute("y2",p.bottom);
  xa.setAttribute("stroke","#222");xa.setAttribute("stroke-width","2");

  xTickLabels.forEach(function(yr){
    const x=xScale(p,yr);
    const tk=mk("line",g);
    
    
    tk.setAttribute("x1",x);tk.setAttribute("x2",x);tk.setAttribute("y1",p.bottom);tk.setAttribute("y2",p.bottom-7);
    tk.setAttribute("stroke","#333");tk.setAttribute("stroke-width","1.2");
    const t=mk("text",g);
    
    
    t.setAttribute("class","tick");
    t.setAttribute("x",x);t.setAttribute("y",p.bottom+p.xLabDy);t.setAttribute("text-anchor","middle");
    t.textContent=yr;
  });

  eraChangeYears.forEach(function(yr){
    const x=xScale(p,yr);
    const l=mk("line",g);
    
    
    l.setAttribute("x1",x);l.setAttribute("x2",x);l.setAttribute("y1",p.top);l.setAttribute("y2",p.bottom);
    l.setAttribute("stroke","#7f7f7f");l.setAttribute("stroke-width","2.6");l.setAttribute("stroke-dasharray","11 7");
  });

  const dots=mk("g",g);
  dots.setAttribute("clip-path","url(#clip-"+p.id+")");
  
  
  p.order.forEach(function(name){
    const sg=mk("g",dots);
    
    
    sg.setAttribute("fill",colors[name]);
    p.series[name].forEach(function(pt){
      const shift=(name==="2Z"&&pt[0]<2005.4&&era4Shift2Z[p.id])?era4Shift2Z[p.id]:0;
      const c=mk("circle",sg);
      
      
      c.setAttribute("cx",xScale(p,pt[0]).toFixed(1));
      c.setAttribute("cy",yScale(p,pt[1]+shift).toFixed(1));
      c.setAttribute("r","4.6");
    });
  });

  const tag=mk("text",g);
  
  
  tag.setAttribute("class","plabel");
  tag.setAttribute("x",p.tagX);tag.setAttribute("y",p.tagY);
  tag.textContent=p.tag;

  if(p.era){
    p.era.forEach(function(cx,i){
      const t=mk("text",g);
      
      
      t.setAttribute("class","era");
      t.setAttribute("x",cx);t.setAttribute("y",p.eraY);t.setAttribute("text-anchor","middle");
      t.textContent=eraNames[i];
    });
  }
  if(p.title){
    const t=mk("text",g);
    
    
    t.setAttribute("class","ytitle");
    t.setAttribute("text-anchor","middle");
    t.setAttribute("transform","translate(14,"+p.titleY+") rotate(-90)");
    t.setAttribute("textLength",p.titleLen);
    t.setAttribute("lengthAdjust","spacingAndGlyphs");
    t.textContent=p.title;
  }
  if(p.xTitle){
    const t=mk("text",g);
    
    
    t.setAttribute("class","date");
    t.setAttribute("x",p.xTitle);t.setAttribute("y",2009);t.setAttribute("text-anchor","middle");
    t.textContent="Date";
  }
});

const legendMarkerX=[1036,1115,1194,1272,1351,1427,1503];
const legendLabelX=[1069,1147,1226,1305,1383,1458,1535];
const lg=mk("g",root);


const lbg=mk("rect",lg);


lbg.setAttribute("x",1016);lbg.setAttribute("y",1890);lbg.setAttribute("width",696);lbg.setAttribute("height",39);lbg.setAttribute("fill","#fff");
seriesNames.forEach(function(name,i){
  const c=mk("circle",lg);
  
  
  c.setAttribute("cx",legendMarkerX[i]);c.setAttribute("cy",1911);c.setAttribute("r","4.4");c.setAttribute("fill",colors[name]);
  const t=mk("text",lg);
  
  
  t.setAttribute("class","leg");
  t.setAttribute("x",legendLabelX[i]);t.setAttribute("y",1917.5);t.setAttribute("text-anchor","middle");
  t.textContent=name;
});
const ld=mk("line",lg);


ld.setAttribute("x1",1564);ld.setAttribute("x2",1596);ld.setAttribute("y1",1911);ld.setAttribute("y2",1911);
ld.setAttribute("stroke","#7f7f7f");ld.setAttribute("stroke-width","3");ld.setAttribute("stroke-dasharray","12 8");
const lt=mk("text",lg);


lt.setAttribute("class","leg");
lt.setAttribute("x",1653);lt.setAttribute("y",1917.5);lt.setAttribute("text-anchor","middle");
lt.textContent="Era change";
</script>
</body>
</html>
